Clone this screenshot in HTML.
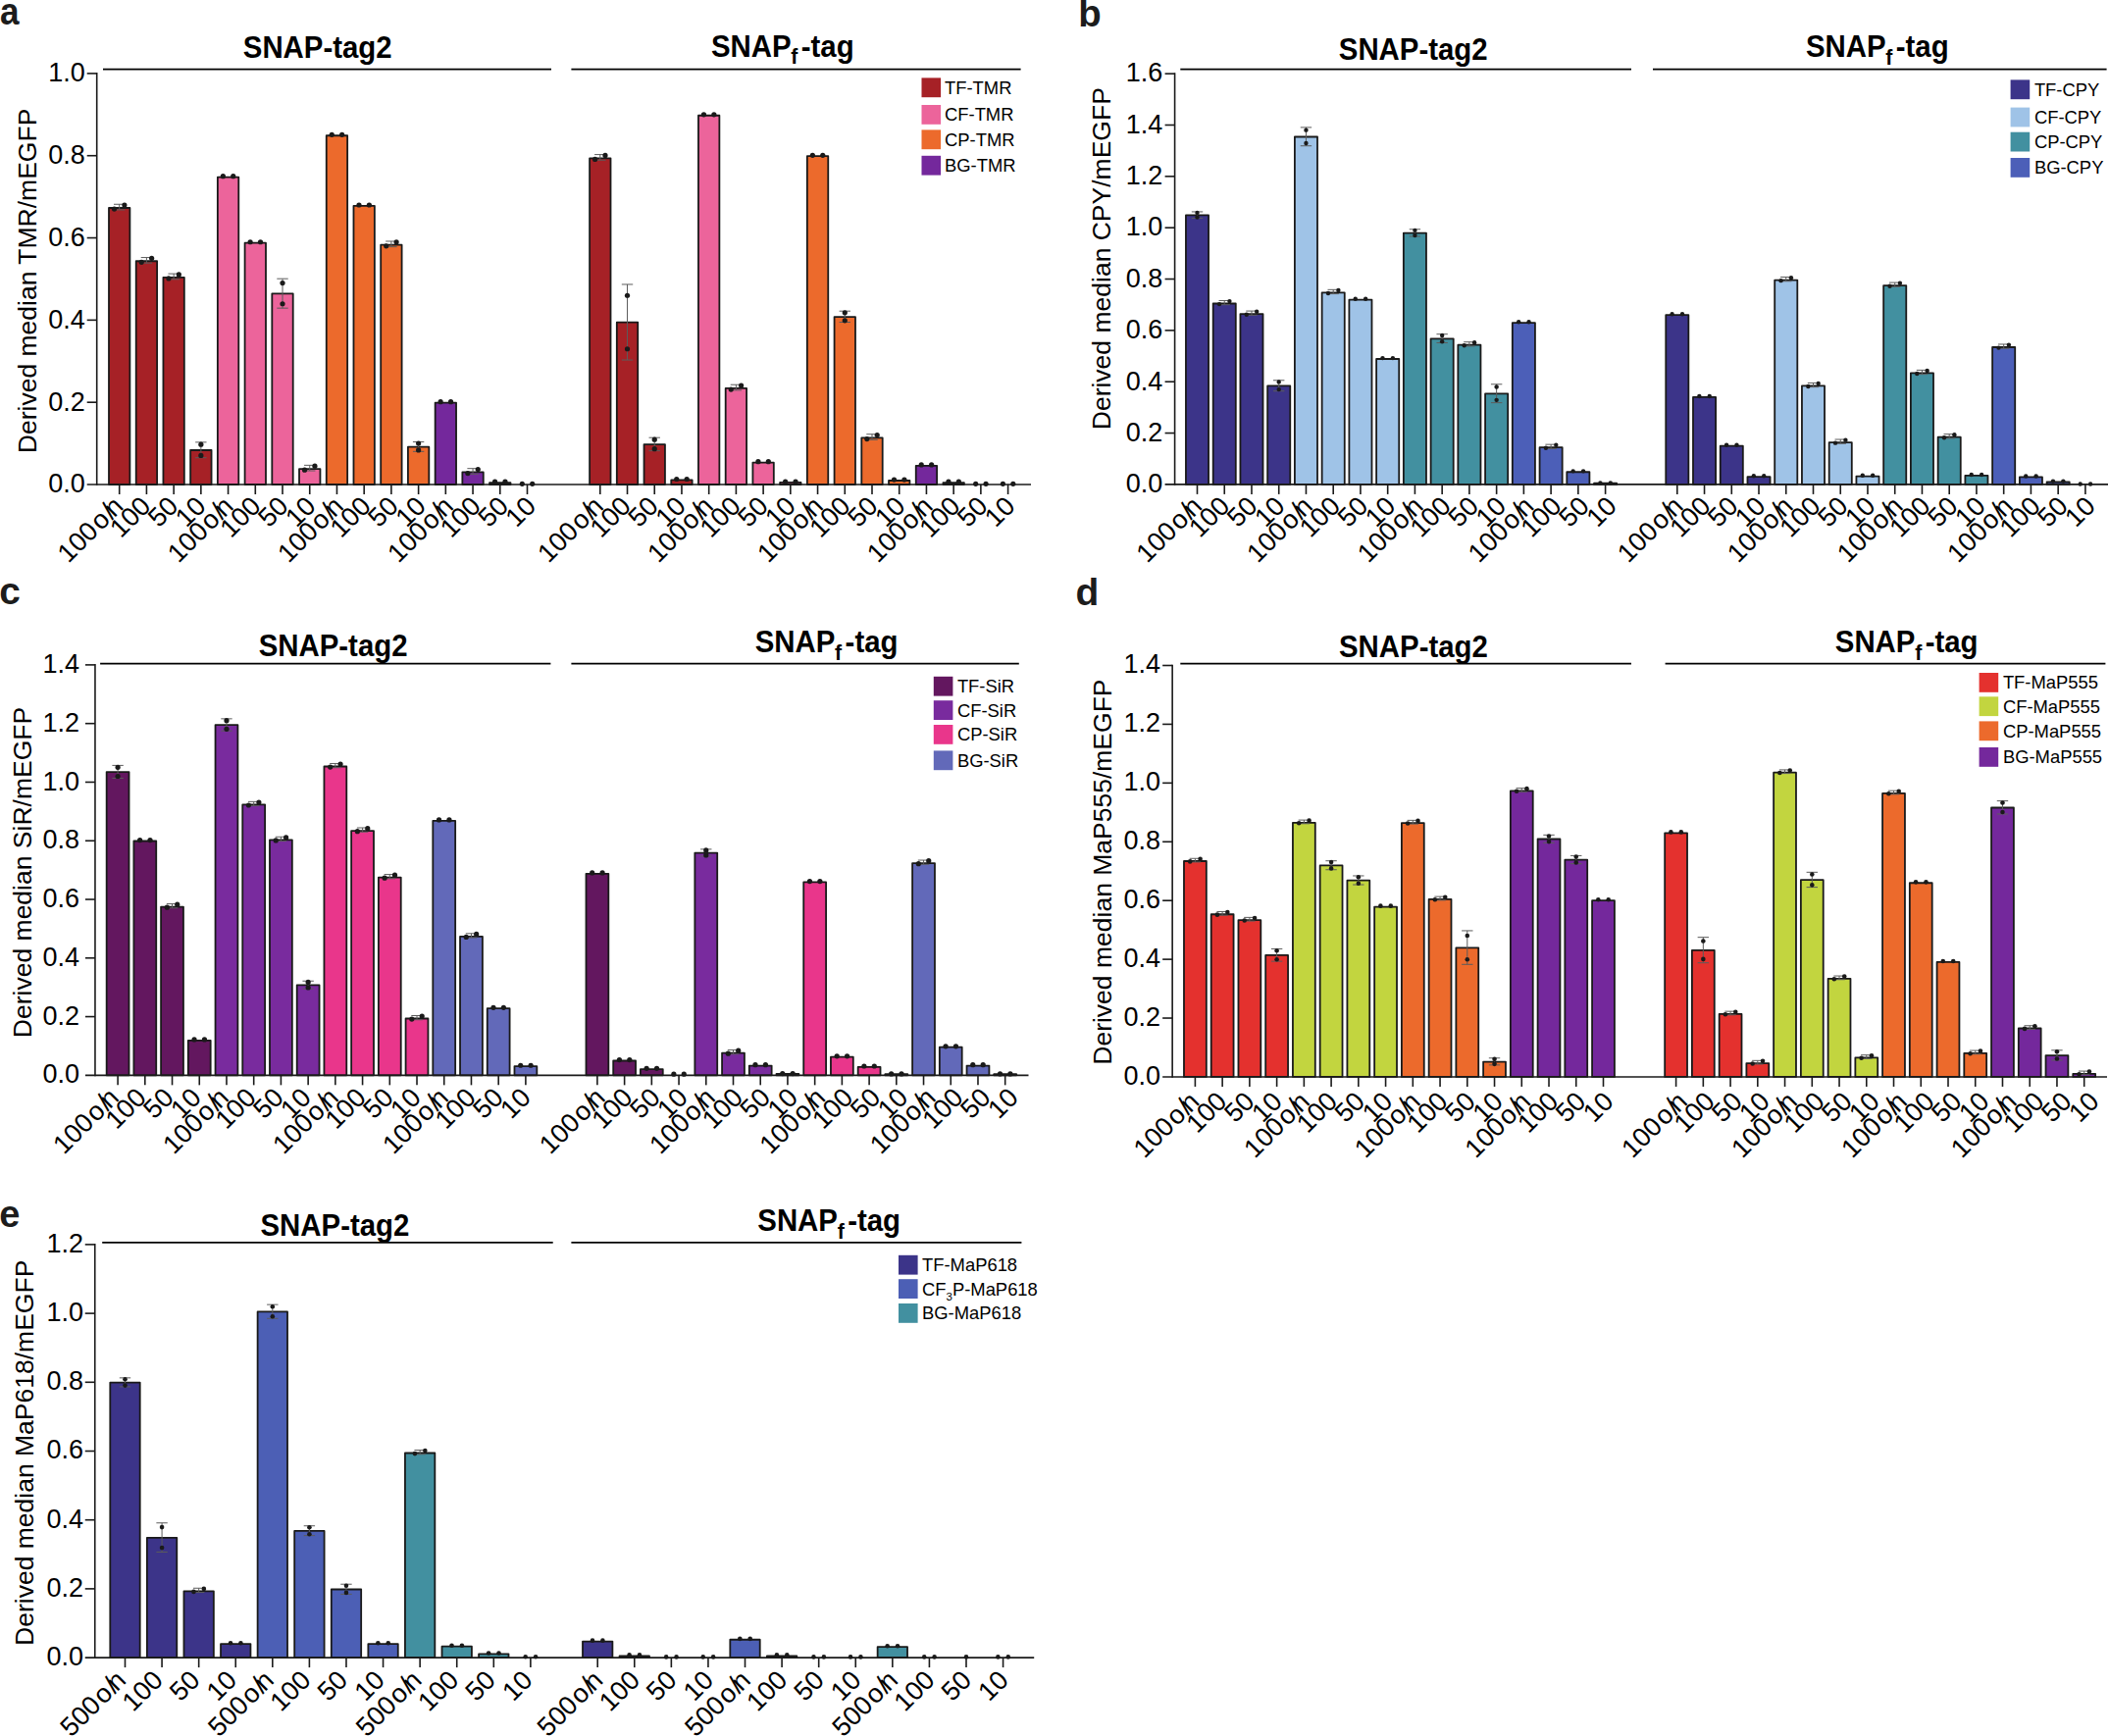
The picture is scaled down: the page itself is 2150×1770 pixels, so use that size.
<!DOCTYPE html>
<html lang="en"><head><meta charset="utf-8"><title>Figure</title>
<style>html,body{margin:0;padding:0;background:#fff}svg{display:block}</style>
</head><body>
<svg xmlns="http://www.w3.org/2000/svg" width="2150" height="1770" viewBox="0 0 2150 1770" font-family='"Liberation Sans", Arial, Helvetica, sans-serif' fill="#000">
<rect width="2150" height="1770" fill="#ffffff"/>
<g>
<rect x="111" y="212.01" width="21.4" height="281.99" fill="#a62126" stroke="#1a1a1a" stroke-width="1.8" stroke-linejoin="round"/>
<line x1="121.7" y1="208.28" x2="121.7" y2="213.94" stroke="#5c5c5c" stroke-width="1.0" stroke-linecap="butt"/>
<line x1="116" y1="208.28" x2="127.4" y2="208.28" stroke="#5c5c5c" stroke-width="1.0" stroke-linecap="butt"/>
<line x1="116" y1="213.94" x2="127.4" y2="213.94" stroke="#5c5c5c" stroke-width="1.0" stroke-linecap="butt"/>
<circle cx="116.5" cy="213.11" r="2.6" fill="#1a1a1a"/>
<circle cx="126.9" cy="209.11" r="2.6" fill="#1a1a1a"/>
<rect x="138.72" y="266.27" width="21.4" height="227.73" fill="#a62126" stroke="#1a1a1a" stroke-width="1.8" stroke-linejoin="round"/>
<line x1="149.42" y1="262.55" x2="149.42" y2="268.2" stroke="#5c5c5c" stroke-width="1.0" stroke-linecap="butt"/>
<line x1="143.72" y1="262.55" x2="155.12" y2="262.55" stroke="#5c5c5c" stroke-width="1.0" stroke-linecap="butt"/>
<line x1="143.72" y1="268.2" x2="155.12" y2="268.2" stroke="#5c5c5c" stroke-width="1.0" stroke-linecap="butt"/>
<circle cx="144.22" cy="267.37" r="2.6" fill="#1a1a1a"/>
<circle cx="154.62" cy="263.37" r="2.6" fill="#1a1a1a"/>
<rect x="166.44" y="282.82" width="21.4" height="211.18" fill="#a62126" stroke="#1a1a1a" stroke-width="1.8" stroke-linejoin="round"/>
<line x1="177.14" y1="279.1" x2="177.14" y2="284.75" stroke="#5c5c5c" stroke-width="1.0" stroke-linecap="butt"/>
<line x1="171.44" y1="279.1" x2="182.84" y2="279.1" stroke="#5c5c5c" stroke-width="1.0" stroke-linecap="butt"/>
<line x1="171.44" y1="284.75" x2="182.84" y2="284.75" stroke="#5c5c5c" stroke-width="1.0" stroke-linecap="butt"/>
<circle cx="171.94" cy="283.92" r="2.6" fill="#1a1a1a"/>
<circle cx="182.34" cy="279.92" r="2.6" fill="#1a1a1a"/>
<rect x="194.16" y="459.01" width="21.4" height="34.99" fill="#a62126" stroke="#1a1a1a" stroke-width="1.8" stroke-linejoin="round"/>
<line x1="204.86" y1="450.89" x2="204.86" y2="466.73" stroke="#5c5c5c" stroke-width="1.0" stroke-linecap="butt"/>
<line x1="199.16" y1="450.89" x2="210.56" y2="450.89" stroke="#5c5c5c" stroke-width="1.0" stroke-linecap="butt"/>
<line x1="199.16" y1="466.73" x2="210.56" y2="466.73" stroke="#5c5c5c" stroke-width="1.0" stroke-linecap="butt"/>
<circle cx="204.86" cy="464.41" r="2.6" fill="#1a1a1a"/>
<circle cx="204.86" cy="453.21" r="2.6" fill="#1a1a1a"/>
<rect x="221.88" y="180.59" width="21.4" height="313.41" fill="#ec649b" stroke="#1a1a1a" stroke-width="1.8" stroke-linejoin="round"/>
<circle cx="227.38" cy="179.69" r="2.6" fill="#1a1a1a"/>
<circle cx="237.78" cy="179.69" r="2.6" fill="#1a1a1a"/>
<rect x="249.6" y="247.63" width="21.4" height="246.37" fill="#ec649b" stroke="#1a1a1a" stroke-width="1.8" stroke-linejoin="round"/>
<circle cx="255.1" cy="246.73" r="2.6" fill="#1a1a1a"/>
<circle cx="265.5" cy="246.73" r="2.6" fill="#1a1a1a"/>
<rect x="277.32" y="299.37" width="21.4" height="194.63" fill="#ec649b" stroke="#1a1a1a" stroke-width="1.8" stroke-linejoin="round"/>
<line x1="288.02" y1="284.18" x2="288.02" y2="314.17" stroke="#5c5c5c" stroke-width="1.0" stroke-linecap="butt"/>
<line x1="282.32" y1="284.18" x2="293.72" y2="284.18" stroke="#5c5c5c" stroke-width="1.0" stroke-linecap="butt"/>
<line x1="282.32" y1="314.17" x2="293.72" y2="314.17" stroke="#5c5c5c" stroke-width="1.0" stroke-linecap="butt"/>
<circle cx="288.02" cy="309.77" r="2.6" fill="#1a1a1a"/>
<circle cx="288.02" cy="288.57" r="2.6" fill="#1a1a1a"/>
<rect x="305.04" y="478.08" width="21.4" height="15.92" fill="#ec649b" stroke="#1a1a1a" stroke-width="1.8" stroke-linejoin="round"/>
<line x1="315.74" y1="474.35" x2="315.74" y2="480.01" stroke="#5c5c5c" stroke-width="1.0" stroke-linecap="butt"/>
<line x1="310.04" y1="474.35" x2="321.44" y2="474.35" stroke="#5c5c5c" stroke-width="1.0" stroke-linecap="butt"/>
<line x1="310.04" y1="480.01" x2="321.44" y2="480.01" stroke="#5c5c5c" stroke-width="1.0" stroke-linecap="butt"/>
<circle cx="310.54" cy="479.18" r="2.6" fill="#1a1a1a"/>
<circle cx="320.94" cy="475.18" r="2.6" fill="#1a1a1a"/>
<rect x="332.76" y="138.27" width="21.4" height="355.73" fill="#ec6a2c" stroke="#1a1a1a" stroke-width="1.8" stroke-linejoin="round"/>
<circle cx="338.26" cy="137.37" r="2.6" fill="#1a1a1a"/>
<circle cx="348.66" cy="137.37" r="2.6" fill="#1a1a1a"/>
<rect x="360.48" y="209.92" width="21.4" height="284.08" fill="#ec6a2c" stroke="#1a1a1a" stroke-width="1.8" stroke-linejoin="round"/>
<circle cx="365.98" cy="209.02" r="2.6" fill="#1a1a1a"/>
<circle cx="376.38" cy="209.02" r="2.6" fill="#1a1a1a"/>
<rect x="388.2" y="249.72" width="21.4" height="244.28" fill="#ec6a2c" stroke="#1a1a1a" stroke-width="1.8" stroke-linejoin="round"/>
<line x1="398.9" y1="245.99" x2="398.9" y2="251.65" stroke="#5c5c5c" stroke-width="1.0" stroke-linecap="butt"/>
<line x1="393.2" y1="245.99" x2="404.6" y2="245.99" stroke="#5c5c5c" stroke-width="1.0" stroke-linecap="butt"/>
<line x1="393.2" y1="251.65" x2="404.6" y2="251.65" stroke="#5c5c5c" stroke-width="1.0" stroke-linecap="butt"/>
<circle cx="393.7" cy="250.82" r="2.6" fill="#1a1a1a"/>
<circle cx="404.1" cy="246.82" r="2.6" fill="#1a1a1a"/>
<rect x="415.92" y="455.66" width="21.4" height="38.34" fill="#ec6a2c" stroke="#1a1a1a" stroke-width="1.8" stroke-linejoin="round"/>
<line x1="426.62" y1="450.58" x2="426.62" y2="460.34" stroke="#5c5c5c" stroke-width="1.0" stroke-linecap="butt"/>
<line x1="420.92" y1="450.58" x2="432.32" y2="450.58" stroke="#5c5c5c" stroke-width="1.0" stroke-linecap="butt"/>
<line x1="420.92" y1="460.34" x2="432.32" y2="460.34" stroke="#5c5c5c" stroke-width="1.0" stroke-linecap="butt"/>
<circle cx="426.62" cy="458.91" r="2.6" fill="#1a1a1a"/>
<circle cx="426.62" cy="452.01" r="2.6" fill="#1a1a1a"/>
<rect x="443.64" y="410.62" width="21.4" height="83.38" fill="#74289c" stroke="#1a1a1a" stroke-width="1.8" stroke-linejoin="round"/>
<circle cx="449.14" cy="409.72" r="2.6" fill="#1a1a1a"/>
<circle cx="459.54" cy="409.72" r="2.6" fill="#1a1a1a"/>
<rect x="471.36" y="481.43" width="21.4" height="12.57" fill="#74289c" stroke="#1a1a1a" stroke-width="1.8" stroke-linejoin="round"/>
<line x1="482.06" y1="477.7" x2="482.06" y2="483.36" stroke="#5c5c5c" stroke-width="1.0" stroke-linecap="butt"/>
<line x1="476.36" y1="477.7" x2="487.76" y2="477.7" stroke="#5c5c5c" stroke-width="1.0" stroke-linecap="butt"/>
<line x1="476.36" y1="483.36" x2="487.76" y2="483.36" stroke="#5c5c5c" stroke-width="1.0" stroke-linecap="butt"/>
<circle cx="476.86" cy="482.53" r="2.6" fill="#1a1a1a"/>
<circle cx="487.26" cy="478.53" r="2.6" fill="#1a1a1a"/>
<rect x="499.08" y="492.11" width="21.4" height="1.89" fill="#74289c" stroke="#1a1a1a" stroke-width="1.8" stroke-linejoin="round"/>
<circle cx="504.58" cy="491.21" r="2.6" fill="#1a1a1a"/>
<circle cx="514.98" cy="491.21" r="2.6" fill="#1a1a1a"/>
<circle cx="532.3" cy="493.28" r="2.6" fill="#1a1a1a"/>
<circle cx="542.7" cy="493.28" r="2.6" fill="#1a1a1a"/>
<rect x="601.1" y="161.31" width="21.4" height="332.69" fill="#a62126" stroke="#1a1a1a" stroke-width="1.8" stroke-linejoin="round"/>
<line x1="611.8" y1="157.59" x2="611.8" y2="163.24" stroke="#5c5c5c" stroke-width="1.0" stroke-linecap="butt"/>
<line x1="606.1" y1="157.59" x2="617.5" y2="157.59" stroke="#5c5c5c" stroke-width="1.0" stroke-linecap="butt"/>
<line x1="606.1" y1="163.24" x2="617.5" y2="163.24" stroke="#5c5c5c" stroke-width="1.0" stroke-linecap="butt"/>
<circle cx="606.6" cy="162.41" r="2.6" fill="#1a1a1a"/>
<circle cx="617" cy="158.41" r="2.6" fill="#1a1a1a"/>
<rect x="628.82" y="328.7" width="21.4" height="165.3" fill="#a62126" stroke="#1a1a1a" stroke-width="1.8" stroke-linejoin="round"/>
<line x1="639.52" y1="289.97" x2="639.52" y2="367.04" stroke="#5c5c5c" stroke-width="1.0" stroke-linecap="butt"/>
<line x1="633.82" y1="289.97" x2="645.22" y2="289.97" stroke="#5c5c5c" stroke-width="1.0" stroke-linecap="butt"/>
<line x1="633.82" y1="367.04" x2="645.22" y2="367.04" stroke="#5c5c5c" stroke-width="1.0" stroke-linecap="butt"/>
<circle cx="639.52" cy="355.75" r="2.6" fill="#1a1a1a"/>
<circle cx="639.52" cy="301.25" r="2.6" fill="#1a1a1a"/>
<rect x="656.54" y="453.11" width="21.4" height="40.89" fill="#a62126" stroke="#1a1a1a" stroke-width="1.8" stroke-linejoin="round"/>
<line x1="667.24" y1="446.19" x2="667.24" y2="459.62" stroke="#5c5c5c" stroke-width="1.0" stroke-linecap="butt"/>
<line x1="661.54" y1="446.19" x2="672.94" y2="446.19" stroke="#5c5c5c" stroke-width="1.0" stroke-linecap="butt"/>
<line x1="661.54" y1="459.62" x2="672.94" y2="459.62" stroke="#5c5c5c" stroke-width="1.0" stroke-linecap="butt"/>
<circle cx="667.24" cy="457.66" r="2.6" fill="#1a1a1a"/>
<circle cx="667.24" cy="448.16" r="2.6" fill="#1a1a1a"/>
<rect x="684.26" y="489.39" width="21.4" height="4.61" fill="#a62126" stroke="#1a1a1a" stroke-width="1.8" stroke-linejoin="round"/>
<circle cx="689.76" cy="488.49" r="2.6" fill="#1a1a1a"/>
<circle cx="700.16" cy="488.49" r="2.6" fill="#1a1a1a"/>
<rect x="711.98" y="117.74" width="21.4" height="376.26" fill="#ec649b" stroke="#1a1a1a" stroke-width="1.8" stroke-linejoin="round"/>
<circle cx="717.48" cy="116.84" r="2.6" fill="#1a1a1a"/>
<circle cx="727.88" cy="116.84" r="2.6" fill="#1a1a1a"/>
<rect x="739.7" y="395.95" width="21.4" height="98.05" fill="#ec649b" stroke="#1a1a1a" stroke-width="1.8" stroke-linejoin="round"/>
<line x1="750.4" y1="392.23" x2="750.4" y2="397.88" stroke="#5c5c5c" stroke-width="1.0" stroke-linecap="butt"/>
<line x1="744.7" y1="392.23" x2="756.1" y2="392.23" stroke="#5c5c5c" stroke-width="1.0" stroke-linecap="butt"/>
<line x1="744.7" y1="397.88" x2="756.1" y2="397.88" stroke="#5c5c5c" stroke-width="1.0" stroke-linecap="butt"/>
<circle cx="745.2" cy="397.05" r="2.6" fill="#1a1a1a"/>
<circle cx="755.6" cy="393.05" r="2.6" fill="#1a1a1a"/>
<rect x="767.42" y="471.58" width="21.4" height="22.42" fill="#ec649b" stroke="#1a1a1a" stroke-width="1.8" stroke-linejoin="round"/>
<circle cx="772.92" cy="470.68" r="2.6" fill="#1a1a1a"/>
<circle cx="783.32" cy="470.68" r="2.6" fill="#1a1a1a"/>
<rect x="795.14" y="491.9" width="21.4" height="2.1" fill="#ec649b" stroke="#1a1a1a" stroke-width="1.8" stroke-linejoin="round"/>
<circle cx="800.64" cy="491" r="2.6" fill="#1a1a1a"/>
<circle cx="811.04" cy="491" r="2.6" fill="#1a1a1a"/>
<rect x="822.86" y="159.22" width="21.4" height="334.78" fill="#ec6a2c" stroke="#1a1a1a" stroke-width="1.8" stroke-linejoin="round"/>
<circle cx="828.36" cy="158.32" r="2.6" fill="#1a1a1a"/>
<circle cx="838.76" cy="158.32" r="2.6" fill="#1a1a1a"/>
<rect x="850.58" y="323.05" width="21.4" height="170.95" fill="#ec6a2c" stroke="#1a1a1a" stroke-width="1.8" stroke-linejoin="round"/>
<line x1="861.28" y1="317.19" x2="861.28" y2="328.5" stroke="#5c5c5c" stroke-width="1.0" stroke-linecap="butt"/>
<line x1="855.58" y1="317.19" x2="866.98" y2="317.19" stroke="#5c5c5c" stroke-width="1.0" stroke-linecap="butt"/>
<line x1="855.58" y1="328.5" x2="866.98" y2="328.5" stroke="#5c5c5c" stroke-width="1.0" stroke-linecap="butt"/>
<circle cx="861.28" cy="326.85" r="2.6" fill="#1a1a1a"/>
<circle cx="861.28" cy="318.85" r="2.6" fill="#1a1a1a"/>
<rect x="878.3" y="446.44" width="21.4" height="47.56" fill="#ec6a2c" stroke="#1a1a1a" stroke-width="1.8" stroke-linejoin="round"/>
<line x1="889" y1="442.72" x2="889" y2="448.37" stroke="#5c5c5c" stroke-width="1.0" stroke-linecap="butt"/>
<line x1="883.3" y1="442.72" x2="894.7" y2="442.72" stroke="#5c5c5c" stroke-width="1.0" stroke-linecap="butt"/>
<line x1="883.3" y1="448.37" x2="894.7" y2="448.37" stroke="#5c5c5c" stroke-width="1.0" stroke-linecap="butt"/>
<circle cx="883.8" cy="447.54" r="2.6" fill="#1a1a1a"/>
<circle cx="894.2" cy="443.54" r="2.6" fill="#1a1a1a"/>
<rect x="906.02" y="490.02" width="21.4" height="3.98" fill="#ec6a2c" stroke="#1a1a1a" stroke-width="1.8" stroke-linejoin="round"/>
<circle cx="911.52" cy="489.12" r="2.6" fill="#1a1a1a"/>
<circle cx="921.92" cy="489.12" r="2.6" fill="#1a1a1a"/>
<rect x="933.74" y="474.85" width="21.4" height="19.15" fill="#74289c" stroke="#1a1a1a" stroke-width="1.8" stroke-linejoin="round"/>
<circle cx="939.24" cy="473.95" r="2.6" fill="#1a1a1a"/>
<circle cx="949.64" cy="473.95" r="2.6" fill="#1a1a1a"/>
<rect x="961.46" y="492.11" width="21.4" height="1.89" fill="#74289c" stroke="#1a1a1a" stroke-width="1.8" stroke-linejoin="round"/>
<circle cx="966.96" cy="491.21" r="2.6" fill="#1a1a1a"/>
<circle cx="977.36" cy="491.21" r="2.6" fill="#1a1a1a"/>
<circle cx="994.68" cy="493.28" r="2.6" fill="#1a1a1a"/>
<circle cx="1005.08" cy="493.28" r="2.6" fill="#1a1a1a"/>
<circle cx="1022.4" cy="493.28" r="2.6" fill="#1a1a1a"/>
<circle cx="1032.8" cy="493.28" r="2.6" fill="#1a1a1a"/>
<line x1="98.7" y1="74.1" x2="98.7" y2="494.8" stroke="#1a1a1a" stroke-width="1.6" stroke-linecap="butt"/>
<line x1="88.7" y1="494" x2="1051" y2="494" stroke="#1a1a1a" stroke-width="1.6" stroke-linecap="butt"/>
<text x="86.7" y="502.45" font-size="27.0" text-anchor="end" font-weight="normal" >0.0</text>
<line x1="88.7" y1="410.18" x2="98.7" y2="410.18" stroke="#1a1a1a" stroke-width="1.6" stroke-linecap="butt"/>
<text x="86.7" y="418.63" font-size="27.0" text-anchor="end" font-weight="normal" >0.2</text>
<line x1="88.7" y1="326.36" x2="98.7" y2="326.36" stroke="#1a1a1a" stroke-width="1.6" stroke-linecap="butt"/>
<text x="86.7" y="334.81" font-size="27.0" text-anchor="end" font-weight="normal" >0.4</text>
<line x1="88.7" y1="242.54" x2="98.7" y2="242.54" stroke="#1a1a1a" stroke-width="1.6" stroke-linecap="butt"/>
<text x="86.7" y="250.99" font-size="27.0" text-anchor="end" font-weight="normal" >0.6</text>
<line x1="88.7" y1="158.72" x2="98.7" y2="158.72" stroke="#1a1a1a" stroke-width="1.6" stroke-linecap="butt"/>
<text x="86.7" y="167.17" font-size="27.0" text-anchor="end" font-weight="normal" >0.8</text>
<line x1="88.7" y1="74.9" x2="98.7" y2="74.9" stroke="#1a1a1a" stroke-width="1.6" stroke-linecap="butt"/>
<text x="86.7" y="83.35" font-size="27.0" text-anchor="end" font-weight="normal" >1.0</text>
<line x1="121.7" y1="494" x2="121.7" y2="504" stroke="#1a1a1a" stroke-width="1.6" stroke-linecap="butt"/>
<text transform="translate(127.15,517.6) rotate(-45)" font-size="27.0" text-anchor="end">100<tspan dx="1.8 0.9 -4.2">o/n</tspan></text>
<line x1="149.42" y1="494" x2="149.42" y2="504" stroke="#1a1a1a" stroke-width="1.6" stroke-linecap="butt"/>
<text transform="translate(155.19,517.6) rotate(-45)" font-size="27.0" text-anchor="end">100</text>
<line x1="177.14" y1="494" x2="177.14" y2="504" stroke="#1a1a1a" stroke-width="1.6" stroke-linecap="butt"/>
<text transform="translate(183.24,517.6) rotate(-45)" font-size="27.0" text-anchor="end">50</text>
<line x1="204.86" y1="494" x2="204.86" y2="504" stroke="#1a1a1a" stroke-width="1.6" stroke-linecap="butt"/>
<text transform="translate(211.28,517.6) rotate(-45)" font-size="27.0" text-anchor="end">10</text>
<line x1="232.58" y1="494" x2="232.58" y2="504" stroke="#1a1a1a" stroke-width="1.6" stroke-linecap="butt"/>
<text transform="translate(239.33,517.6) rotate(-45)" font-size="27.0" text-anchor="end">100<tspan dx="1.8 0.9 -4.2">o/n</tspan></text>
<line x1="260.3" y1="494" x2="260.3" y2="504" stroke="#1a1a1a" stroke-width="1.6" stroke-linecap="butt"/>
<text transform="translate(267.38,517.6) rotate(-45)" font-size="27.0" text-anchor="end">100</text>
<line x1="288.02" y1="494" x2="288.02" y2="504" stroke="#1a1a1a" stroke-width="1.6" stroke-linecap="butt"/>
<text transform="translate(295.42,517.6) rotate(-45)" font-size="27.0" text-anchor="end">50</text>
<line x1="315.74" y1="494" x2="315.74" y2="504" stroke="#1a1a1a" stroke-width="1.6" stroke-linecap="butt"/>
<text transform="translate(323.46,517.6) rotate(-45)" font-size="27.0" text-anchor="end">10</text>
<line x1="343.46" y1="494" x2="343.46" y2="504" stroke="#1a1a1a" stroke-width="1.6" stroke-linecap="butt"/>
<text transform="translate(351.51,517.6) rotate(-45)" font-size="27.0" text-anchor="end">100<tspan dx="1.8 0.9 -4.2">o/n</tspan></text>
<line x1="371.18" y1="494" x2="371.18" y2="504" stroke="#1a1a1a" stroke-width="1.6" stroke-linecap="butt"/>
<text transform="translate(379.56,517.6) rotate(-45)" font-size="27.0" text-anchor="end">100</text>
<line x1="398.9" y1="494" x2="398.9" y2="504" stroke="#1a1a1a" stroke-width="1.6" stroke-linecap="butt"/>
<text transform="translate(407.6,517.6) rotate(-45)" font-size="27.0" text-anchor="end">50</text>
<line x1="426.62" y1="494" x2="426.62" y2="504" stroke="#1a1a1a" stroke-width="1.6" stroke-linecap="butt"/>
<text transform="translate(435.64,517.6) rotate(-45)" font-size="27.0" text-anchor="end">10</text>
<line x1="454.34" y1="494" x2="454.34" y2="504" stroke="#1a1a1a" stroke-width="1.6" stroke-linecap="butt"/>
<text transform="translate(463.69,517.6) rotate(-45)" font-size="27.0" text-anchor="end">100<tspan dx="1.8 0.9 -4.2">o/n</tspan></text>
<line x1="482.06" y1="494" x2="482.06" y2="504" stroke="#1a1a1a" stroke-width="1.6" stroke-linecap="butt"/>
<text transform="translate(491.74,517.6) rotate(-45)" font-size="27.0" text-anchor="end">100</text>
<line x1="509.78" y1="494" x2="509.78" y2="504" stroke="#1a1a1a" stroke-width="1.6" stroke-linecap="butt"/>
<text transform="translate(519.78,517.6) rotate(-45)" font-size="27.0" text-anchor="end">50</text>
<line x1="537.5" y1="494" x2="537.5" y2="504" stroke="#1a1a1a" stroke-width="1.6" stroke-linecap="butt"/>
<text transform="translate(547.83,517.6) rotate(-45)" font-size="27.0" text-anchor="end">10</text>
<line x1="611.8" y1="494" x2="611.8" y2="504" stroke="#1a1a1a" stroke-width="1.6" stroke-linecap="butt"/>
<text transform="translate(616.7,517.6) rotate(-45)" font-size="27.0" text-anchor="end">100<tspan dx="1.8 0.9 -4.2">o/n</tspan></text>
<line x1="639.52" y1="494" x2="639.52" y2="504" stroke="#1a1a1a" stroke-width="1.6" stroke-linecap="butt"/>
<text transform="translate(644.68,517.6) rotate(-45)" font-size="27.0" text-anchor="end">100</text>
<line x1="667.24" y1="494" x2="667.24" y2="504" stroke="#1a1a1a" stroke-width="1.6" stroke-linecap="butt"/>
<text transform="translate(672.65,517.6) rotate(-45)" font-size="27.0" text-anchor="end">50</text>
<line x1="694.96" y1="494" x2="694.96" y2="504" stroke="#1a1a1a" stroke-width="1.6" stroke-linecap="butt"/>
<text transform="translate(700.63,517.6) rotate(-45)" font-size="27.0" text-anchor="end">10</text>
<line x1="722.68" y1="494" x2="722.68" y2="504" stroke="#1a1a1a" stroke-width="1.6" stroke-linecap="butt"/>
<text transform="translate(728.6,517.6) rotate(-45)" font-size="27.0" text-anchor="end">100<tspan dx="1.8 0.9 -4.2">o/n</tspan></text>
<line x1="750.4" y1="494" x2="750.4" y2="504" stroke="#1a1a1a" stroke-width="1.6" stroke-linecap="butt"/>
<text transform="translate(756.58,517.6) rotate(-45)" font-size="27.0" text-anchor="end">100</text>
<line x1="778.12" y1="494" x2="778.12" y2="504" stroke="#1a1a1a" stroke-width="1.6" stroke-linecap="butt"/>
<text transform="translate(784.56,517.6) rotate(-45)" font-size="27.0" text-anchor="end">50</text>
<line x1="805.84" y1="494" x2="805.84" y2="504" stroke="#1a1a1a" stroke-width="1.6" stroke-linecap="butt"/>
<text transform="translate(812.53,517.6) rotate(-45)" font-size="27.0" text-anchor="end">10</text>
<line x1="833.56" y1="494" x2="833.56" y2="504" stroke="#1a1a1a" stroke-width="1.6" stroke-linecap="butt"/>
<text transform="translate(840.51,517.6) rotate(-45)" font-size="27.0" text-anchor="end">100<tspan dx="1.8 0.9 -4.2">o/n</tspan></text>
<line x1="861.28" y1="494" x2="861.28" y2="504" stroke="#1a1a1a" stroke-width="1.6" stroke-linecap="butt"/>
<text transform="translate(868.48,517.6) rotate(-45)" font-size="27.0" text-anchor="end">100</text>
<line x1="889" y1="494" x2="889" y2="504" stroke="#1a1a1a" stroke-width="1.6" stroke-linecap="butt"/>
<text transform="translate(896.46,517.6) rotate(-45)" font-size="27.0" text-anchor="end">50</text>
<line x1="916.72" y1="494" x2="916.72" y2="504" stroke="#1a1a1a" stroke-width="1.6" stroke-linecap="butt"/>
<text transform="translate(924.44,517.6) rotate(-45)" font-size="27.0" text-anchor="end">10</text>
<line x1="944.44" y1="494" x2="944.44" y2="504" stroke="#1a1a1a" stroke-width="1.6" stroke-linecap="butt"/>
<text transform="translate(952.41,517.6) rotate(-45)" font-size="27.0" text-anchor="end">100<tspan dx="1.8 0.9 -4.2">o/n</tspan></text>
<line x1="972.16" y1="494" x2="972.16" y2="504" stroke="#1a1a1a" stroke-width="1.6" stroke-linecap="butt"/>
<text transform="translate(980.39,517.6) rotate(-45)" font-size="27.0" text-anchor="end">100</text>
<line x1="999.88" y1="494" x2="999.88" y2="504" stroke="#1a1a1a" stroke-width="1.6" stroke-linecap="butt"/>
<text transform="translate(1008.36,517.6) rotate(-45)" font-size="27.0" text-anchor="end">50</text>
<line x1="1027.6" y1="494" x2="1027.6" y2="504" stroke="#1a1a1a" stroke-width="1.6" stroke-linecap="butt"/>
<text transform="translate(1036.34,517.6) rotate(-45)" font-size="27.0" text-anchor="end">10</text>
<text transform="translate(37.3,286.4) rotate(-90)" font-size="26.5" text-anchor="middle">Derived median TMR/mEGFP</text>
<line x1="105" y1="70.55" x2="562" y2="70.55" stroke="#000" stroke-width="1.8" stroke-linecap="butt"/>
<line x1="582.4" y1="70.55" x2="1040.6" y2="70.55" stroke="#000" stroke-width="1.8" stroke-linecap="butt"/>
<text transform="translate(247.8,59.4) scale(0.964,1)" font-size="30.5" font-weight="bold" fill="#000">SNAP-tag2</text>
<text transform="translate(724.9,57.6) scale(0.964,1)" font-size="30.5" font-weight="bold" fill="#000">SNAP<tspan font-size="22.0" dy="7.8" dx="-0.3">f</tspan><tspan dy="-7.8" dx="3.6">-tag</tspan></text>
<rect x="939.5" y="79.4" width="19.6" height="19.8" fill="#a62126"/>
<text x="963" y="95.8" font-size="18.4" text-anchor="start" font-weight="normal" >TF-TMR</text>
<rect x="939.5" y="107" width="19.6" height="19.8" fill="#ec649b"/>
<text x="963" y="123.4" font-size="18.4" text-anchor="start" font-weight="normal" >CF-TMR</text>
<rect x="939.5" y="132.4" width="19.6" height="19.8" fill="#ec6a2c"/>
<text x="963" y="148.8" font-size="18.4" text-anchor="start" font-weight="normal" >CP-TMR</text>
<rect x="939.5" y="158.8" width="19.6" height="19.8" fill="#74289c"/>
<text x="963" y="175.2" font-size="18.4" text-anchor="start" font-weight="normal" >BG-TMR</text>
<text transform="translate(0,24.7) scale(0.925,1)" font-size="38.0" font-weight="bold" fill="#1c1c1c">a</text>
</g>
<g>
<rect x="1208.95" y="219.4" width="23.1" height="274.5" fill="#3c3489" stroke="#1a1a1a" stroke-width="1.8" stroke-linejoin="round"/>
<line x1="1220.5" y1="215.95" x2="1220.5" y2="222.45" stroke="#5c5c5c" stroke-width="1.0" stroke-linecap="butt"/>
<line x1="1214.8" y1="215.95" x2="1226.2" y2="215.95" stroke="#5c5c5c" stroke-width="1.0" stroke-linecap="butt"/>
<line x1="1214.8" y1="222.45" x2="1226.2" y2="222.45" stroke="#5c5c5c" stroke-width="1.0" stroke-linecap="butt"/>
<circle cx="1220.5" cy="221.5" r="2.2" fill="#1a1a1a"/>
<circle cx="1220.5" cy="216.9" r="2.2" fill="#1a1a1a"/>
<rect x="1236.69" y="309.49" width="23.1" height="184.41" fill="#3c3489" stroke="#1a1a1a" stroke-width="1.8" stroke-linejoin="round"/>
<line x1="1248.24" y1="306.47" x2="1248.24" y2="310.71" stroke="#5c5c5c" stroke-width="1.0" stroke-linecap="butt"/>
<line x1="1242.54" y1="306.47" x2="1253.94" y2="306.47" stroke="#5c5c5c" stroke-width="1.0" stroke-linecap="butt"/>
<line x1="1242.54" y1="310.71" x2="1253.94" y2="310.71" stroke="#5c5c5c" stroke-width="1.0" stroke-linecap="butt"/>
<circle cx="1243.04" cy="310.09" r="2.2" fill="#1a1a1a"/>
<circle cx="1253.44" cy="307.09" r="2.2" fill="#1a1a1a"/>
<rect x="1264.43" y="320.1" width="23.1" height="173.8" fill="#3c3489" stroke="#1a1a1a" stroke-width="1.8" stroke-linejoin="round"/>
<line x1="1275.98" y1="317.08" x2="1275.98" y2="321.32" stroke="#5c5c5c" stroke-width="1.0" stroke-linecap="butt"/>
<line x1="1270.28" y1="317.08" x2="1281.68" y2="317.08" stroke="#5c5c5c" stroke-width="1.0" stroke-linecap="butt"/>
<line x1="1270.28" y1="321.32" x2="1281.68" y2="321.32" stroke="#5c5c5c" stroke-width="1.0" stroke-linecap="butt"/>
<circle cx="1270.78" cy="320.7" r="2.2" fill="#1a1a1a"/>
<circle cx="1281.18" cy="317.7" r="2.2" fill="#1a1a1a"/>
<rect x="1292.17" y="393.43" width="23.1" height="100.47" fill="#3c3489" stroke="#1a1a1a" stroke-width="1.8" stroke-linejoin="round"/>
<line x1="1303.72" y1="387.79" x2="1303.72" y2="398.68" stroke="#5c5c5c" stroke-width="1.0" stroke-linecap="butt"/>
<line x1="1298.02" y1="387.79" x2="1309.42" y2="387.79" stroke="#5c5c5c" stroke-width="1.0" stroke-linecap="butt"/>
<line x1="1298.02" y1="398.68" x2="1309.42" y2="398.68" stroke="#5c5c5c" stroke-width="1.0" stroke-linecap="butt"/>
<circle cx="1303.72" cy="397.08" r="2.2" fill="#1a1a1a"/>
<circle cx="1303.72" cy="389.38" r="2.2" fill="#1a1a1a"/>
<rect x="1319.91" y="139.52" width="23.1" height="354.38" fill="#9fc3e7" stroke="#1a1a1a" stroke-width="1.8" stroke-linejoin="round"/>
<line x1="1331.46" y1="129.91" x2="1331.46" y2="148.72" stroke="#5c5c5c" stroke-width="1.0" stroke-linecap="butt"/>
<line x1="1325.76" y1="129.91" x2="1337.16" y2="129.91" stroke="#5c5c5c" stroke-width="1.0" stroke-linecap="butt"/>
<line x1="1325.76" y1="148.72" x2="1337.16" y2="148.72" stroke="#5c5c5c" stroke-width="1.0" stroke-linecap="butt"/>
<circle cx="1331.46" cy="145.97" r="2.2" fill="#1a1a1a"/>
<circle cx="1331.46" cy="132.67" r="2.2" fill="#1a1a1a"/>
<rect x="1347.65" y="298.36" width="23.1" height="195.54" fill="#9fc3e7" stroke="#1a1a1a" stroke-width="1.8" stroke-linejoin="round"/>
<line x1="1359.2" y1="295.34" x2="1359.2" y2="299.58" stroke="#5c5c5c" stroke-width="1.0" stroke-linecap="butt"/>
<line x1="1353.5" y1="295.34" x2="1364.9" y2="295.34" stroke="#5c5c5c" stroke-width="1.0" stroke-linecap="butt"/>
<line x1="1353.5" y1="299.58" x2="1364.9" y2="299.58" stroke="#5c5c5c" stroke-width="1.0" stroke-linecap="butt"/>
<circle cx="1354" cy="298.96" r="2.2" fill="#1a1a1a"/>
<circle cx="1364.4" cy="295.96" r="2.2" fill="#1a1a1a"/>
<rect x="1375.39" y="305.62" width="23.1" height="188.28" fill="#9fc3e7" stroke="#1a1a1a" stroke-width="1.8" stroke-linejoin="round"/>
<circle cx="1381.74" cy="304.72" r="2.2" fill="#1a1a1a"/>
<circle cx="1392.14" cy="304.72" r="2.2" fill="#1a1a1a"/>
<rect x="1403.13" y="366.01" width="23.1" height="127.89" fill="#9fc3e7" stroke="#1a1a1a" stroke-width="1.8" stroke-linejoin="round"/>
<circle cx="1409.48" cy="365.11" r="2.2" fill="#1a1a1a"/>
<circle cx="1419.88" cy="365.11" r="2.2" fill="#1a1a1a"/>
<rect x="1430.87" y="237.6" width="23.1" height="256.3" fill="#4290a0" stroke="#1a1a1a" stroke-width="1.8" stroke-linejoin="round"/>
<line x1="1442.42" y1="233.79" x2="1442.42" y2="241.01" stroke="#5c5c5c" stroke-width="1.0" stroke-linecap="butt"/>
<line x1="1436.72" y1="233.79" x2="1448.12" y2="233.79" stroke="#5c5c5c" stroke-width="1.0" stroke-linecap="butt"/>
<line x1="1436.72" y1="241.01" x2="1448.12" y2="241.01" stroke="#5c5c5c" stroke-width="1.0" stroke-linecap="butt"/>
<circle cx="1442.42" cy="239.95" r="2.2" fill="#1a1a1a"/>
<circle cx="1442.42" cy="234.85" r="2.2" fill="#1a1a1a"/>
<rect x="1458.61" y="345.29" width="23.1" height="148.61" fill="#4290a0" stroke="#1a1a1a" stroke-width="1.8" stroke-linejoin="round"/>
<line x1="1470.16" y1="340.71" x2="1470.16" y2="349.48" stroke="#5c5c5c" stroke-width="1.0" stroke-linecap="butt"/>
<line x1="1464.46" y1="340.71" x2="1475.86" y2="340.71" stroke="#5c5c5c" stroke-width="1.0" stroke-linecap="butt"/>
<line x1="1464.46" y1="349.48" x2="1475.86" y2="349.48" stroke="#5c5c5c" stroke-width="1.0" stroke-linecap="butt"/>
<circle cx="1470.16" cy="348.19" r="2.2" fill="#1a1a1a"/>
<circle cx="1470.16" cy="341.99" r="2.2" fill="#1a1a1a"/>
<rect x="1486.35" y="351.71" width="23.1" height="142.19" fill="#4290a0" stroke="#1a1a1a" stroke-width="1.8" stroke-linejoin="round"/>
<line x1="1497.9" y1="348.69" x2="1497.9" y2="352.93" stroke="#5c5c5c" stroke-width="1.0" stroke-linecap="butt"/>
<line x1="1492.2" y1="348.69" x2="1503.6" y2="348.69" stroke="#5c5c5c" stroke-width="1.0" stroke-linecap="butt"/>
<line x1="1492.2" y1="352.93" x2="1503.6" y2="352.93" stroke="#5c5c5c" stroke-width="1.0" stroke-linecap="butt"/>
<circle cx="1492.7" cy="352.31" r="2.2" fill="#1a1a1a"/>
<circle cx="1503.1" cy="349.31" r="2.2" fill="#1a1a1a"/>
<rect x="1514.09" y="401.39" width="23.1" height="92.51" fill="#4290a0" stroke="#1a1a1a" stroke-width="1.8" stroke-linejoin="round"/>
<line x1="1525.64" y1="391.79" x2="1525.64" y2="410.6" stroke="#5c5c5c" stroke-width="1.0" stroke-linecap="butt"/>
<line x1="1519.94" y1="391.79" x2="1531.34" y2="391.79" stroke="#5c5c5c" stroke-width="1.0" stroke-linecap="butt"/>
<line x1="1519.94" y1="410.6" x2="1531.34" y2="410.6" stroke="#5c5c5c" stroke-width="1.0" stroke-linecap="butt"/>
<circle cx="1525.64" cy="407.84" r="2.2" fill="#1a1a1a"/>
<circle cx="1525.64" cy="394.54" r="2.2" fill="#1a1a1a"/>
<rect x="1541.83" y="329.19" width="23.1" height="164.71" fill="#4c5fb8" stroke="#1a1a1a" stroke-width="1.8" stroke-linejoin="round"/>
<circle cx="1548.18" cy="328.29" r="2.2" fill="#1a1a1a"/>
<circle cx="1558.58" cy="328.29" r="2.2" fill="#1a1a1a"/>
<rect x="1569.57" y="456.18" width="23.1" height="37.72" fill="#4c5fb8" stroke="#1a1a1a" stroke-width="1.8" stroke-linejoin="round"/>
<line x1="1581.12" y1="453.16" x2="1581.12" y2="457.4" stroke="#5c5c5c" stroke-width="1.0" stroke-linecap="butt"/>
<line x1="1575.42" y1="453.16" x2="1586.82" y2="453.16" stroke="#5c5c5c" stroke-width="1.0" stroke-linecap="butt"/>
<line x1="1575.42" y1="457.4" x2="1586.82" y2="457.4" stroke="#5c5c5c" stroke-width="1.0" stroke-linecap="butt"/>
<circle cx="1575.92" cy="456.78" r="2.2" fill="#1a1a1a"/>
<circle cx="1586.32" cy="453.78" r="2.2" fill="#1a1a1a"/>
<rect x="1597.31" y="481.27" width="23.1" height="12.63" fill="#4c5fb8" stroke="#1a1a1a" stroke-width="1.8" stroke-linejoin="round"/>
<circle cx="1603.66" cy="480.37" r="2.2" fill="#1a1a1a"/>
<circle cx="1614.06" cy="480.37" r="2.2" fill="#1a1a1a"/>
<rect x="1625.05" y="492.69" width="23.1" height="1.21" fill="#4c5fb8" stroke="#1a1a1a" stroke-width="1.8" stroke-linejoin="round"/>
<circle cx="1631.4" cy="492.39" r="2.2" fill="#1a1a1a"/>
<circle cx="1641.8" cy="492.39" r="2.2" fill="#1a1a1a"/>
<rect x="1698.25" y="321.22" width="23.1" height="172.68" fill="#3c3489" stroke="#1a1a1a" stroke-width="1.8" stroke-linejoin="round"/>
<circle cx="1704.6" cy="320.32" r="2.2" fill="#1a1a1a"/>
<circle cx="1715" cy="320.32" r="2.2" fill="#1a1a1a"/>
<rect x="1725.99" y="404.95" width="23.1" height="88.95" fill="#3c3489" stroke="#1a1a1a" stroke-width="1.8" stroke-linejoin="round"/>
<circle cx="1732.34" cy="404.05" r="2.2" fill="#1a1a1a"/>
<circle cx="1742.74" cy="404.05" r="2.2" fill="#1a1a1a"/>
<rect x="1753.73" y="454.64" width="23.1" height="39.26" fill="#3c3489" stroke="#1a1a1a" stroke-width="1.8" stroke-linejoin="round"/>
<circle cx="1760.08" cy="453.74" r="2.2" fill="#1a1a1a"/>
<circle cx="1770.48" cy="453.74" r="2.2" fill="#1a1a1a"/>
<rect x="1781.47" y="486.14" width="23.1" height="7.76" fill="#3c3489" stroke="#1a1a1a" stroke-width="1.8" stroke-linejoin="round"/>
<circle cx="1787.82" cy="485.24" r="2.2" fill="#1a1a1a"/>
<circle cx="1798.22" cy="485.24" r="2.2" fill="#1a1a1a"/>
<rect x="1809.21" y="285.53" width="23.1" height="208.37" fill="#9fc3e7" stroke="#1a1a1a" stroke-width="1.8" stroke-linejoin="round"/>
<line x1="1820.76" y1="282.51" x2="1820.76" y2="286.75" stroke="#5c5c5c" stroke-width="1.0" stroke-linecap="butt"/>
<line x1="1815.06" y1="282.51" x2="1826.46" y2="282.51" stroke="#5c5c5c" stroke-width="1.0" stroke-linecap="butt"/>
<line x1="1815.06" y1="286.75" x2="1826.46" y2="286.75" stroke="#5c5c5c" stroke-width="1.0" stroke-linecap="butt"/>
<circle cx="1815.56" cy="286.13" r="2.2" fill="#1a1a1a"/>
<circle cx="1825.96" cy="283.13" r="2.2" fill="#1a1a1a"/>
<rect x="1836.95" y="393.43" width="23.1" height="100.47" fill="#9fc3e7" stroke="#1a1a1a" stroke-width="1.8" stroke-linejoin="round"/>
<line x1="1848.5" y1="390.41" x2="1848.5" y2="394.65" stroke="#5c5c5c" stroke-width="1.0" stroke-linecap="butt"/>
<line x1="1842.8" y1="390.41" x2="1854.2" y2="390.41" stroke="#5c5c5c" stroke-width="1.0" stroke-linecap="butt"/>
<line x1="1842.8" y1="394.65" x2="1854.2" y2="394.65" stroke="#5c5c5c" stroke-width="1.0" stroke-linecap="butt"/>
<circle cx="1843.3" cy="394.03" r="2.2" fill="#1a1a1a"/>
<circle cx="1853.7" cy="391.03" r="2.2" fill="#1a1a1a"/>
<rect x="1864.69" y="451.05" width="23.1" height="42.85" fill="#9fc3e7" stroke="#1a1a1a" stroke-width="1.8" stroke-linejoin="round"/>
<line x1="1876.24" y1="448.03" x2="1876.24" y2="452.27" stroke="#5c5c5c" stroke-width="1.0" stroke-linecap="butt"/>
<line x1="1870.54" y1="448.03" x2="1881.94" y2="448.03" stroke="#5c5c5c" stroke-width="1.0" stroke-linecap="butt"/>
<line x1="1870.54" y1="452.27" x2="1881.94" y2="452.27" stroke="#5c5c5c" stroke-width="1.0" stroke-linecap="butt"/>
<circle cx="1871.04" cy="451.65" r="2.2" fill="#1a1a1a"/>
<circle cx="1881.44" cy="448.65" r="2.2" fill="#1a1a1a"/>
<rect x="1892.43" y="485.62" width="23.1" height="8.28" fill="#9fc3e7" stroke="#1a1a1a" stroke-width="1.8" stroke-linejoin="round"/>
<circle cx="1898.78" cy="484.72" r="2.2" fill="#1a1a1a"/>
<circle cx="1909.18" cy="484.72" r="2.2" fill="#1a1a1a"/>
<rect x="1920.17" y="291.11" width="23.1" height="202.79" fill="#4290a0" stroke="#1a1a1a" stroke-width="1.8" stroke-linejoin="round"/>
<line x1="1931.72" y1="288.08" x2="1931.72" y2="292.33" stroke="#5c5c5c" stroke-width="1.0" stroke-linecap="butt"/>
<line x1="1926.02" y1="288.08" x2="1937.42" y2="288.08" stroke="#5c5c5c" stroke-width="1.0" stroke-linecap="butt"/>
<line x1="1926.02" y1="292.33" x2="1937.42" y2="292.33" stroke="#5c5c5c" stroke-width="1.0" stroke-linecap="butt"/>
<circle cx="1926.52" cy="291.71" r="2.2" fill="#1a1a1a"/>
<circle cx="1936.92" cy="288.71" r="2.2" fill="#1a1a1a"/>
<rect x="1947.91" y="380.39" width="23.1" height="113.51" fill="#4290a0" stroke="#1a1a1a" stroke-width="1.8" stroke-linejoin="round"/>
<line x1="1959.46" y1="377.37" x2="1959.46" y2="381.61" stroke="#5c5c5c" stroke-width="1.0" stroke-linecap="butt"/>
<line x1="1953.76" y1="377.37" x2="1965.16" y2="377.37" stroke="#5c5c5c" stroke-width="1.0" stroke-linecap="butt"/>
<line x1="1953.76" y1="381.61" x2="1965.16" y2="381.61" stroke="#5c5c5c" stroke-width="1.0" stroke-linecap="butt"/>
<circle cx="1954.26" cy="380.99" r="2.2" fill="#1a1a1a"/>
<circle cx="1964.66" cy="377.99" r="2.2" fill="#1a1a1a"/>
<rect x="1975.65" y="445.65" width="23.1" height="48.25" fill="#4290a0" stroke="#1a1a1a" stroke-width="1.8" stroke-linejoin="round"/>
<line x1="1987.2" y1="442.63" x2="1987.2" y2="446.87" stroke="#5c5c5c" stroke-width="1.0" stroke-linecap="butt"/>
<line x1="1981.5" y1="442.63" x2="1992.9" y2="442.63" stroke="#5c5c5c" stroke-width="1.0" stroke-linecap="butt"/>
<line x1="1981.5" y1="446.87" x2="1992.9" y2="446.87" stroke="#5c5c5c" stroke-width="1.0" stroke-linecap="butt"/>
<circle cx="1982" cy="446.25" r="2.2" fill="#1a1a1a"/>
<circle cx="1992.4" cy="443.25" r="2.2" fill="#1a1a1a"/>
<rect x="2003.39" y="484.83" width="23.1" height="9.07" fill="#4290a0" stroke="#1a1a1a" stroke-width="1.8" stroke-linejoin="round"/>
<circle cx="2009.74" cy="483.93" r="2.2" fill="#1a1a1a"/>
<circle cx="2020.14" cy="483.93" r="2.2" fill="#1a1a1a"/>
<rect x="2031.13" y="354.01" width="23.1" height="139.89" fill="#4c5fb8" stroke="#1a1a1a" stroke-width="1.8" stroke-linejoin="round"/>
<line x1="2042.68" y1="350.99" x2="2042.68" y2="355.24" stroke="#5c5c5c" stroke-width="1.0" stroke-linecap="butt"/>
<line x1="2036.98" y1="350.99" x2="2048.38" y2="350.99" stroke="#5c5c5c" stroke-width="1.0" stroke-linecap="butt"/>
<line x1="2036.98" y1="355.24" x2="2048.38" y2="355.24" stroke="#5c5c5c" stroke-width="1.0" stroke-linecap="butt"/>
<circle cx="2037.48" cy="354.61" r="2.2" fill="#1a1a1a"/>
<circle cx="2047.88" cy="351.61" r="2.2" fill="#1a1a1a"/>
<rect x="2058.87" y="486.4" width="23.1" height="7.5" fill="#4c5fb8" stroke="#1a1a1a" stroke-width="1.8" stroke-linejoin="round"/>
<circle cx="2065.22" cy="485.5" r="2.2" fill="#1a1a1a"/>
<circle cx="2075.62" cy="485.5" r="2.2" fill="#1a1a1a"/>
<rect x="2086.61" y="491.51" width="23.1" height="2.39" fill="#4c5fb8" stroke="#1a1a1a" stroke-width="1.8" stroke-linejoin="round"/>
<circle cx="2092.96" cy="490.61" r="2.2" fill="#1a1a1a"/>
<circle cx="2103.36" cy="490.61" r="2.2" fill="#1a1a1a"/>
<circle cx="2120.7" cy="493.44" r="2.2" fill="#1a1a1a"/>
<circle cx="2131.1" cy="493.44" r="2.2" fill="#1a1a1a"/>
<line x1="1197.6" y1="74.35" x2="1197.6" y2="494.7" stroke="#1a1a1a" stroke-width="1.6" stroke-linecap="butt"/>
<line x1="1187.6" y1="493.9" x2="2149" y2="493.9" stroke="#1a1a1a" stroke-width="1.6" stroke-linecap="butt"/>
<text x="1185.4" y="502.2" font-size="27.0" text-anchor="end" font-weight="normal" >0.0</text>
<line x1="1187.6" y1="441.56" x2="1197.6" y2="441.56" stroke="#1a1a1a" stroke-width="1.6" stroke-linecap="butt"/>
<text x="1185.4" y="449.86" font-size="27.0" text-anchor="end" font-weight="normal" >0.2</text>
<line x1="1187.6" y1="389.21" x2="1197.6" y2="389.21" stroke="#1a1a1a" stroke-width="1.6" stroke-linecap="butt"/>
<text x="1185.4" y="397.51" font-size="27.0" text-anchor="end" font-weight="normal" >0.4</text>
<line x1="1187.6" y1="336.87" x2="1197.6" y2="336.87" stroke="#1a1a1a" stroke-width="1.6" stroke-linecap="butt"/>
<text x="1185.4" y="345.17" font-size="27.0" text-anchor="end" font-weight="normal" >0.6</text>
<line x1="1187.6" y1="284.52" x2="1197.6" y2="284.52" stroke="#1a1a1a" stroke-width="1.6" stroke-linecap="butt"/>
<text x="1185.4" y="292.82" font-size="27.0" text-anchor="end" font-weight="normal" >0.8</text>
<line x1="1187.6" y1="232.18" x2="1197.6" y2="232.18" stroke="#1a1a1a" stroke-width="1.6" stroke-linecap="butt"/>
<text x="1185.4" y="240.48" font-size="27.0" text-anchor="end" font-weight="normal" >1.0</text>
<line x1="1187.6" y1="179.84" x2="1197.6" y2="179.84" stroke="#1a1a1a" stroke-width="1.6" stroke-linecap="butt"/>
<text x="1185.4" y="188.14" font-size="27.0" text-anchor="end" font-weight="normal" >1.2</text>
<line x1="1187.6" y1="127.49" x2="1197.6" y2="127.49" stroke="#1a1a1a" stroke-width="1.6" stroke-linecap="butt"/>
<text x="1185.4" y="135.79" font-size="27.0" text-anchor="end" font-weight="normal" >1.4</text>
<line x1="1187.6" y1="75.15" x2="1197.6" y2="75.15" stroke="#1a1a1a" stroke-width="1.6" stroke-linecap="butt"/>
<text x="1185.4" y="83.45" font-size="27.0" text-anchor="end" font-weight="normal" >1.6</text>
<line x1="1220.5" y1="493.9" x2="1220.5" y2="503.9" stroke="#1a1a1a" stroke-width="1.6" stroke-linecap="butt"/>
<text transform="translate(1226.9,517.5) rotate(-45)" font-size="27.0" text-anchor="end">100<tspan dx="1.8 0.9 -4.2">o/n</tspan></text>
<line x1="1248.24" y1="493.9" x2="1248.24" y2="503.9" stroke="#1a1a1a" stroke-width="1.6" stroke-linecap="butt"/>
<text transform="translate(1255.09,517.5) rotate(-45)" font-size="27.0" text-anchor="end">100</text>
<line x1="1275.98" y1="493.9" x2="1275.98" y2="503.9" stroke="#1a1a1a" stroke-width="1.6" stroke-linecap="butt"/>
<text transform="translate(1283.28,517.5) rotate(-45)" font-size="27.0" text-anchor="end">50</text>
<line x1="1303.72" y1="493.9" x2="1303.72" y2="503.9" stroke="#1a1a1a" stroke-width="1.6" stroke-linecap="butt"/>
<text transform="translate(1311.47,517.5) rotate(-45)" font-size="27.0" text-anchor="end">10</text>
<line x1="1331.46" y1="493.9" x2="1331.46" y2="503.9" stroke="#1a1a1a" stroke-width="1.6" stroke-linecap="butt"/>
<text transform="translate(1339.66,517.5) rotate(-45)" font-size="27.0" text-anchor="end">100<tspan dx="1.8 0.9 -4.2">o/n</tspan></text>
<line x1="1359.2" y1="493.9" x2="1359.2" y2="503.9" stroke="#1a1a1a" stroke-width="1.6" stroke-linecap="butt"/>
<text transform="translate(1367.85,517.5) rotate(-45)" font-size="27.0" text-anchor="end">100</text>
<line x1="1386.94" y1="493.9" x2="1386.94" y2="503.9" stroke="#1a1a1a" stroke-width="1.6" stroke-linecap="butt"/>
<text transform="translate(1396.04,517.5) rotate(-45)" font-size="27.0" text-anchor="end">50</text>
<line x1="1414.68" y1="493.9" x2="1414.68" y2="503.9" stroke="#1a1a1a" stroke-width="1.6" stroke-linecap="butt"/>
<text transform="translate(1424.23,517.5) rotate(-45)" font-size="27.0" text-anchor="end">10</text>
<line x1="1442.42" y1="493.9" x2="1442.42" y2="503.9" stroke="#1a1a1a" stroke-width="1.6" stroke-linecap="butt"/>
<text transform="translate(1452.42,517.5) rotate(-45)" font-size="27.0" text-anchor="end">100<tspan dx="1.8 0.9 -4.2">o/n</tspan></text>
<line x1="1470.16" y1="493.9" x2="1470.16" y2="503.9" stroke="#1a1a1a" stroke-width="1.6" stroke-linecap="butt"/>
<text transform="translate(1480.61,517.5) rotate(-45)" font-size="27.0" text-anchor="end">100</text>
<line x1="1497.9" y1="493.9" x2="1497.9" y2="503.9" stroke="#1a1a1a" stroke-width="1.6" stroke-linecap="butt"/>
<text transform="translate(1508.8,517.5) rotate(-45)" font-size="27.0" text-anchor="end">50</text>
<line x1="1525.64" y1="493.9" x2="1525.64" y2="503.9" stroke="#1a1a1a" stroke-width="1.6" stroke-linecap="butt"/>
<text transform="translate(1536.99,517.5) rotate(-45)" font-size="27.0" text-anchor="end">10</text>
<line x1="1553.38" y1="493.9" x2="1553.38" y2="503.9" stroke="#1a1a1a" stroke-width="1.6" stroke-linecap="butt"/>
<text transform="translate(1565.18,517.5) rotate(-45)" font-size="27.0" text-anchor="end">100<tspan dx="1.8 0.9 -4.2">o/n</tspan></text>
<line x1="1581.12" y1="493.9" x2="1581.12" y2="503.9" stroke="#1a1a1a" stroke-width="1.6" stroke-linecap="butt"/>
<text transform="translate(1593.37,517.5) rotate(-45)" font-size="27.0" text-anchor="end">100</text>
<line x1="1608.86" y1="493.9" x2="1608.86" y2="503.9" stroke="#1a1a1a" stroke-width="1.6" stroke-linecap="butt"/>
<text transform="translate(1621.56,517.5) rotate(-45)" font-size="27.0" text-anchor="end">50</text>
<line x1="1636.6" y1="493.9" x2="1636.6" y2="503.9" stroke="#1a1a1a" stroke-width="1.6" stroke-linecap="butt"/>
<text transform="translate(1649.75,517.5) rotate(-45)" font-size="27.0" text-anchor="end">10</text>
<line x1="1709.8" y1="493.9" x2="1709.8" y2="503.9" stroke="#1a1a1a" stroke-width="1.6" stroke-linecap="butt"/>
<text transform="translate(1717.3,517.5) rotate(-45)" font-size="27.0" text-anchor="end">100<tspan dx="1.8 0.9 -4.2">o/n</tspan></text>
<line x1="1737.54" y1="493.9" x2="1737.54" y2="503.9" stroke="#1a1a1a" stroke-width="1.6" stroke-linecap="butt"/>
<text transform="translate(1745.32,517.5) rotate(-45)" font-size="27.0" text-anchor="end">100</text>
<line x1="1765.28" y1="493.9" x2="1765.28" y2="503.9" stroke="#1a1a1a" stroke-width="1.6" stroke-linecap="butt"/>
<text transform="translate(1773.34,517.5) rotate(-45)" font-size="27.0" text-anchor="end">50</text>
<line x1="1793.02" y1="493.9" x2="1793.02" y2="503.9" stroke="#1a1a1a" stroke-width="1.6" stroke-linecap="butt"/>
<text transform="translate(1801.36,517.5) rotate(-45)" font-size="27.0" text-anchor="end">10</text>
<line x1="1820.76" y1="493.9" x2="1820.76" y2="503.9" stroke="#1a1a1a" stroke-width="1.6" stroke-linecap="butt"/>
<text transform="translate(1829.38,517.5) rotate(-45)" font-size="27.0" text-anchor="end">100<tspan dx="1.8 0.9 -4.2">o/n</tspan></text>
<line x1="1848.5" y1="493.9" x2="1848.5" y2="503.9" stroke="#1a1a1a" stroke-width="1.6" stroke-linecap="butt"/>
<text transform="translate(1857.4,517.5) rotate(-45)" font-size="27.0" text-anchor="end">100</text>
<line x1="1876.24" y1="493.9" x2="1876.24" y2="503.9" stroke="#1a1a1a" stroke-width="1.6" stroke-linecap="butt"/>
<text transform="translate(1885.42,517.5) rotate(-45)" font-size="27.0" text-anchor="end">50</text>
<line x1="1903.98" y1="493.9" x2="1903.98" y2="503.9" stroke="#1a1a1a" stroke-width="1.6" stroke-linecap="butt"/>
<text transform="translate(1913.44,517.5) rotate(-45)" font-size="27.0" text-anchor="end">10</text>
<line x1="1931.72" y1="493.9" x2="1931.72" y2="503.9" stroke="#1a1a1a" stroke-width="1.6" stroke-linecap="butt"/>
<text transform="translate(1941.46,517.5) rotate(-45)" font-size="27.0" text-anchor="end">100<tspan dx="1.8 0.9 -4.2">o/n</tspan></text>
<line x1="1959.46" y1="493.9" x2="1959.46" y2="503.9" stroke="#1a1a1a" stroke-width="1.6" stroke-linecap="butt"/>
<text transform="translate(1969.48,517.5) rotate(-45)" font-size="27.0" text-anchor="end">100</text>
<line x1="1987.2" y1="493.9" x2="1987.2" y2="503.9" stroke="#1a1a1a" stroke-width="1.6" stroke-linecap="butt"/>
<text transform="translate(1997.5,517.5) rotate(-45)" font-size="27.0" text-anchor="end">50</text>
<line x1="2014.94" y1="493.9" x2="2014.94" y2="503.9" stroke="#1a1a1a" stroke-width="1.6" stroke-linecap="butt"/>
<text transform="translate(2025.52,517.5) rotate(-45)" font-size="27.0" text-anchor="end">10</text>
<line x1="2042.68" y1="493.9" x2="2042.68" y2="503.9" stroke="#1a1a1a" stroke-width="1.6" stroke-linecap="butt"/>
<text transform="translate(2053.54,517.5) rotate(-45)" font-size="27.0" text-anchor="end">100<tspan dx="1.8 0.9 -4.2">o/n</tspan></text>
<line x1="2070.42" y1="493.9" x2="2070.42" y2="503.9" stroke="#1a1a1a" stroke-width="1.6" stroke-linecap="butt"/>
<text transform="translate(2081.56,517.5) rotate(-45)" font-size="27.0" text-anchor="end">100</text>
<line x1="2098.16" y1="493.9" x2="2098.16" y2="503.9" stroke="#1a1a1a" stroke-width="1.6" stroke-linecap="butt"/>
<text transform="translate(2109.58,517.5) rotate(-45)" font-size="27.0" text-anchor="end">50</text>
<line x1="2125.9" y1="493.9" x2="2125.9" y2="503.9" stroke="#1a1a1a" stroke-width="1.6" stroke-linecap="butt"/>
<text transform="translate(2137.6,517.5) rotate(-45)" font-size="27.0" text-anchor="end">10</text>
<text transform="translate(1131.8,263.7) rotate(-90)" font-size="26.5" text-anchor="middle">Derived median CPY/mEGFP</text>
<line x1="1203.3" y1="70.55" x2="1663" y2="70.55" stroke="#000" stroke-width="1.8" stroke-linecap="butt"/>
<line x1="1685" y1="70.55" x2="2147.6" y2="70.55" stroke="#000" stroke-width="1.8" stroke-linecap="butt"/>
<text transform="translate(1364.8,60.9) scale(0.964,1)" font-size="30.5" font-weight="bold" fill="#000">SNAP-tag2</text>
<text transform="translate(1840.9,58.4) scale(0.964,1)" font-size="30.5" font-weight="bold" fill="#000">SNAP<tspan font-size="22.0" dy="7.8" dx="-0.3">f</tspan><tspan dy="-7.8" dx="3.6">-tag</tspan></text>
<rect x="2049.6" y="81.4" width="19.6" height="19.8" fill="#3c3489"/>
<text x="2073.9" y="97.8" font-size="18.4" text-anchor="start" font-weight="normal" >TF-CPY</text>
<rect x="2049.6" y="109.6" width="19.6" height="19.8" fill="#9fc3e7"/>
<text x="2073.9" y="126" font-size="18.4" text-anchor="start" font-weight="normal" >CF-CPY</text>
<rect x="2049.6" y="134.7" width="19.6" height="19.8" fill="#4290a0"/>
<text x="2073.9" y="151.1" font-size="18.4" text-anchor="start" font-weight="normal" >CP-CPY</text>
<rect x="2049.6" y="161" width="19.6" height="19.8" fill="#4c5fb8"/>
<text x="2073.9" y="177.4" font-size="18.4" text-anchor="start" font-weight="normal" >BG-CPY</text>
<text transform="translate(1099.3,27.4) scale(1.01,1)" font-size="38.0" font-weight="bold" fill="#1c1c1c">b</text>
</g>
<g>
<rect x="108.67" y="787.11" width="22.85" height="309.24" fill="#63175f" stroke="#1a1a1a" stroke-width="1.8" stroke-linejoin="round"/>
<line x1="120.1" y1="780.4" x2="120.1" y2="793.41" stroke="#5c5c5c" stroke-width="1.0" stroke-linecap="butt"/>
<line x1="114.4" y1="780.4" x2="125.8" y2="780.4" stroke="#5c5c5c" stroke-width="1.0" stroke-linecap="butt"/>
<line x1="114.4" y1="793.41" x2="125.8" y2="793.41" stroke="#5c5c5c" stroke-width="1.0" stroke-linecap="butt"/>
<circle cx="120.1" cy="791.51" r="2.6" fill="#1a1a1a"/>
<circle cx="120.1" cy="782.31" r="2.6" fill="#1a1a1a"/>
<rect x="136.39" y="857.5" width="22.85" height="238.85" fill="#63175f" stroke="#1a1a1a" stroke-width="1.8" stroke-linejoin="round"/>
<circle cx="142.62" cy="856.6" r="2.6" fill="#1a1a1a"/>
<circle cx="153.02" cy="856.6" r="2.6" fill="#1a1a1a"/>
<rect x="164.11" y="924.58" width="22.85" height="171.77" fill="#63175f" stroke="#1a1a1a" stroke-width="1.8" stroke-linejoin="round"/>
<line x1="175.54" y1="921.56" x2="175.54" y2="925.8" stroke="#5c5c5c" stroke-width="1.0" stroke-linecap="butt"/>
<line x1="169.84" y1="921.56" x2="181.24" y2="921.56" stroke="#5c5c5c" stroke-width="1.0" stroke-linecap="butt"/>
<line x1="169.84" y1="925.8" x2="181.24" y2="925.8" stroke="#5c5c5c" stroke-width="1.0" stroke-linecap="butt"/>
<circle cx="170.34" cy="925.18" r="2.6" fill="#1a1a1a"/>
<circle cx="180.74" cy="922.18" r="2.6" fill="#1a1a1a"/>
<rect x="191.83" y="1060.8" width="22.85" height="35.55" fill="#63175f" stroke="#1a1a1a" stroke-width="1.8" stroke-linejoin="round"/>
<circle cx="198.06" cy="1059.9" r="2.6" fill="#1a1a1a"/>
<circle cx="208.46" cy="1059.9" r="2.6" fill="#1a1a1a"/>
<rect x="219.55" y="739.21" width="22.85" height="357.14" fill="#792b9e" stroke="#1a1a1a" stroke-width="1.8" stroke-linejoin="round"/>
<line x1="230.98" y1="732.86" x2="230.98" y2="745.17" stroke="#5c5c5c" stroke-width="1.0" stroke-linecap="butt"/>
<line x1="225.28" y1="732.86" x2="236.68" y2="732.86" stroke="#5c5c5c" stroke-width="1.0" stroke-linecap="butt"/>
<line x1="225.28" y1="745.17" x2="236.68" y2="745.17" stroke="#5c5c5c" stroke-width="1.0" stroke-linecap="butt"/>
<circle cx="230.98" cy="743.36" r="2.6" fill="#1a1a1a"/>
<circle cx="230.98" cy="734.66" r="2.6" fill="#1a1a1a"/>
<rect x="247.27" y="820.38" width="22.85" height="275.97" fill="#792b9e" stroke="#1a1a1a" stroke-width="1.8" stroke-linejoin="round"/>
<line x1="258.7" y1="817.36" x2="258.7" y2="821.6" stroke="#5c5c5c" stroke-width="1.0" stroke-linecap="butt"/>
<line x1="253" y1="817.36" x2="264.4" y2="817.36" stroke="#5c5c5c" stroke-width="1.0" stroke-linecap="butt"/>
<line x1="253" y1="821.6" x2="264.4" y2="821.6" stroke="#5c5c5c" stroke-width="1.0" stroke-linecap="butt"/>
<circle cx="253.5" cy="820.98" r="2.6" fill="#1a1a1a"/>
<circle cx="263.9" cy="817.98" r="2.6" fill="#1a1a1a"/>
<rect x="274.99" y="856.28" width="22.85" height="240.07" fill="#792b9e" stroke="#1a1a1a" stroke-width="1.8" stroke-linejoin="round"/>
<line x1="286.42" y1="853.25" x2="286.42" y2="857.5" stroke="#5c5c5c" stroke-width="1.0" stroke-linecap="butt"/>
<line x1="280.72" y1="853.25" x2="292.12" y2="853.25" stroke="#5c5c5c" stroke-width="1.0" stroke-linecap="butt"/>
<line x1="280.72" y1="857.5" x2="292.12" y2="857.5" stroke="#5c5c5c" stroke-width="1.0" stroke-linecap="butt"/>
<circle cx="281.22" cy="856.88" r="2.6" fill="#1a1a1a"/>
<circle cx="291.62" cy="853.88" r="2.6" fill="#1a1a1a"/>
<rect x="302.71" y="1004.4" width="22.85" height="91.95" fill="#792b9e" stroke="#1a1a1a" stroke-width="1.8" stroke-linejoin="round"/>
<line x1="314.14" y1="1000.24" x2="314.14" y2="1008.16" stroke="#5c5c5c" stroke-width="1.0" stroke-linecap="butt"/>
<line x1="308.44" y1="1000.24" x2="319.84" y2="1000.24" stroke="#5c5c5c" stroke-width="1.0" stroke-linecap="butt"/>
<line x1="308.44" y1="1008.16" x2="319.84" y2="1008.16" stroke="#5c5c5c" stroke-width="1.0" stroke-linecap="butt"/>
<circle cx="314.14" cy="1007" r="2.6" fill="#1a1a1a"/>
<circle cx="314.14" cy="1001.4" r="2.6" fill="#1a1a1a"/>
<rect x="330.44" y="781.5" width="22.85" height="314.85" fill="#e9368b" stroke="#1a1a1a" stroke-width="1.8" stroke-linejoin="round"/>
<line x1="341.86" y1="778.48" x2="341.86" y2="782.72" stroke="#5c5c5c" stroke-width="1.0" stroke-linecap="butt"/>
<line x1="336.16" y1="778.48" x2="347.56" y2="778.48" stroke="#5c5c5c" stroke-width="1.0" stroke-linecap="butt"/>
<line x1="336.16" y1="782.72" x2="347.56" y2="782.72" stroke="#5c5c5c" stroke-width="1.0" stroke-linecap="butt"/>
<circle cx="336.66" cy="782.1" r="2.6" fill="#1a1a1a"/>
<circle cx="347.06" cy="779.1" r="2.6" fill="#1a1a1a"/>
<rect x="358.15" y="847.03" width="22.85" height="249.32" fill="#e9368b" stroke="#1a1a1a" stroke-width="1.8" stroke-linejoin="round"/>
<line x1="369.58" y1="844" x2="369.58" y2="848.25" stroke="#5c5c5c" stroke-width="1.0" stroke-linecap="butt"/>
<line x1="363.88" y1="844" x2="375.28" y2="844" stroke="#5c5c5c" stroke-width="1.0" stroke-linecap="butt"/>
<line x1="363.88" y1="848.25" x2="375.28" y2="848.25" stroke="#5c5c5c" stroke-width="1.0" stroke-linecap="butt"/>
<circle cx="364.38" cy="847.63" r="2.6" fill="#1a1a1a"/>
<circle cx="374.78" cy="844.63" r="2.6" fill="#1a1a1a"/>
<rect x="385.87" y="894.59" width="22.85" height="201.76" fill="#e9368b" stroke="#1a1a1a" stroke-width="1.8" stroke-linejoin="round"/>
<line x1="397.3" y1="891.57" x2="397.3" y2="895.81" stroke="#5c5c5c" stroke-width="1.0" stroke-linecap="butt"/>
<line x1="391.6" y1="891.57" x2="403" y2="891.57" stroke="#5c5c5c" stroke-width="1.0" stroke-linecap="butt"/>
<line x1="391.6" y1="895.81" x2="403" y2="895.81" stroke="#5c5c5c" stroke-width="1.0" stroke-linecap="butt"/>
<circle cx="392.1" cy="895.19" r="2.6" fill="#1a1a1a"/>
<circle cx="402.5" cy="892.19" r="2.6" fill="#1a1a1a"/>
<rect x="413.59" y="1038.51" width="22.85" height="57.84" fill="#e9368b" stroke="#1a1a1a" stroke-width="1.8" stroke-linejoin="round"/>
<line x1="425.02" y1="1035.49" x2="425.02" y2="1039.73" stroke="#5c5c5c" stroke-width="1.0" stroke-linecap="butt"/>
<line x1="419.32" y1="1035.49" x2="430.72" y2="1035.49" stroke="#5c5c5c" stroke-width="1.0" stroke-linecap="butt"/>
<line x1="419.32" y1="1039.73" x2="430.72" y2="1039.73" stroke="#5c5c5c" stroke-width="1.0" stroke-linecap="butt"/>
<circle cx="419.82" cy="1039.11" r="2.6" fill="#1a1a1a"/>
<circle cx="430.22" cy="1036.11" r="2.6" fill="#1a1a1a"/>
<rect x="441.31" y="836.79" width="22.85" height="259.56" fill="#6269b9" stroke="#1a1a1a" stroke-width="1.8" stroke-linejoin="round"/>
<circle cx="447.54" cy="835.89" r="2.6" fill="#1a1a1a"/>
<circle cx="457.94" cy="835.89" r="2.6" fill="#1a1a1a"/>
<rect x="469.04" y="954.81" width="22.85" height="141.54" fill="#6269b9" stroke="#1a1a1a" stroke-width="1.8" stroke-linejoin="round"/>
<line x1="480.46" y1="951.79" x2="480.46" y2="956.03" stroke="#5c5c5c" stroke-width="1.0" stroke-linecap="butt"/>
<line x1="474.76" y1="951.79" x2="486.16" y2="951.79" stroke="#5c5c5c" stroke-width="1.0" stroke-linecap="butt"/>
<line x1="474.76" y1="956.03" x2="486.16" y2="956.03" stroke="#5c5c5c" stroke-width="1.0" stroke-linecap="butt"/>
<circle cx="475.26" cy="955.41" r="2.6" fill="#1a1a1a"/>
<circle cx="485.66" cy="952.41" r="2.6" fill="#1a1a1a"/>
<rect x="496.75" y="1028.21" width="22.85" height="68.14" fill="#6269b9" stroke="#1a1a1a" stroke-width="1.8" stroke-linejoin="round"/>
<circle cx="502.98" cy="1027.31" r="2.6" fill="#1a1a1a"/>
<circle cx="513.38" cy="1027.31" r="2.6" fill="#1a1a1a"/>
<rect x="524.48" y="1087.15" width="22.85" height="9.2" fill="#6269b9" stroke="#1a1a1a" stroke-width="1.8" stroke-linejoin="round"/>
<circle cx="530.7" cy="1086.25" r="2.6" fill="#1a1a1a"/>
<circle cx="541.1" cy="1086.25" r="2.6" fill="#1a1a1a"/>
<rect x="597.48" y="890.8" width="22.85" height="205.55" fill="#63175f" stroke="#1a1a1a" stroke-width="1.8" stroke-linejoin="round"/>
<circle cx="603.7" cy="889.9" r="2.6" fill="#1a1a1a"/>
<circle cx="614.1" cy="889.9" r="2.6" fill="#1a1a1a"/>
<rect x="625.2" y="1081.51" width="22.85" height="14.84" fill="#63175f" stroke="#1a1a1a" stroke-width="1.8" stroke-linejoin="round"/>
<circle cx="631.42" cy="1080.61" r="2.6" fill="#1a1a1a"/>
<circle cx="641.82" cy="1080.61" r="2.6" fill="#1a1a1a"/>
<rect x="652.91" y="1090.19" width="22.85" height="6.16" fill="#63175f" stroke="#1a1a1a" stroke-width="1.8" stroke-linejoin="round"/>
<circle cx="659.14" cy="1089.29" r="2.6" fill="#1a1a1a"/>
<circle cx="669.54" cy="1089.29" r="2.6" fill="#1a1a1a"/>
<circle cx="686.86" cy="1095.2" r="2.6" fill="#1a1a1a"/>
<circle cx="697.26" cy="1095.2" r="2.6" fill="#1a1a1a"/>
<rect x="708.36" y="869.61" width="22.85" height="226.74" fill="#792b9e" stroke="#1a1a1a" stroke-width="1.8" stroke-linejoin="round"/>
<line x1="719.78" y1="865.88" x2="719.78" y2="872.95" stroke="#5c5c5c" stroke-width="1.0" stroke-linecap="butt"/>
<line x1="714.08" y1="865.88" x2="725.48" y2="865.88" stroke="#5c5c5c" stroke-width="1.0" stroke-linecap="butt"/>
<line x1="714.08" y1="872.95" x2="725.48" y2="872.95" stroke="#5c5c5c" stroke-width="1.0" stroke-linecap="butt"/>
<circle cx="719.78" cy="871.91" r="2.6" fill="#1a1a1a"/>
<circle cx="719.78" cy="866.91" r="2.6" fill="#1a1a1a"/>
<rect x="736.08" y="1073.57" width="22.85" height="22.78" fill="#792b9e" stroke="#1a1a1a" stroke-width="1.8" stroke-linejoin="round"/>
<line x1="747.5" y1="1070.55" x2="747.5" y2="1074.79" stroke="#5c5c5c" stroke-width="1.0" stroke-linecap="butt"/>
<line x1="741.8" y1="1070.55" x2="753.2" y2="1070.55" stroke="#5c5c5c" stroke-width="1.0" stroke-linecap="butt"/>
<line x1="741.8" y1="1074.79" x2="753.2" y2="1074.79" stroke="#5c5c5c" stroke-width="1.0" stroke-linecap="butt"/>
<circle cx="742.3" cy="1074.17" r="2.6" fill="#1a1a1a"/>
<circle cx="752.7" cy="1071.17" r="2.6" fill="#1a1a1a"/>
<rect x="763.8" y="1086.61" width="22.85" height="9.74" fill="#792b9e" stroke="#1a1a1a" stroke-width="1.8" stroke-linejoin="round"/>
<circle cx="770.02" cy="1085.71" r="2.6" fill="#1a1a1a"/>
<circle cx="780.42" cy="1085.71" r="2.6" fill="#1a1a1a"/>
<rect x="791.51" y="1094.91" width="22.85" height="1.44" fill="#792b9e" stroke="#1a1a1a" stroke-width="1.8" stroke-linejoin="round"/>
<circle cx="797.74" cy="1094.61" r="2.6" fill="#1a1a1a"/>
<circle cx="808.14" cy="1094.61" r="2.6" fill="#1a1a1a"/>
<rect x="819.24" y="899.45" width="22.85" height="196.9" fill="#e9368b" stroke="#1a1a1a" stroke-width="1.8" stroke-linejoin="round"/>
<circle cx="825.46" cy="898.55" r="2.6" fill="#1a1a1a"/>
<circle cx="835.86" cy="898.55" r="2.6" fill="#1a1a1a"/>
<rect x="846.96" y="1077.69" width="22.85" height="18.66" fill="#e9368b" stroke="#1a1a1a" stroke-width="1.8" stroke-linejoin="round"/>
<circle cx="853.18" cy="1076.79" r="2.6" fill="#1a1a1a"/>
<circle cx="863.58" cy="1076.79" r="2.6" fill="#1a1a1a"/>
<rect x="874.67" y="1087.89" width="22.85" height="8.46" fill="#e9368b" stroke="#1a1a1a" stroke-width="1.8" stroke-linejoin="round"/>
<circle cx="880.9" cy="1086.99" r="2.6" fill="#1a1a1a"/>
<circle cx="891.3" cy="1086.99" r="2.6" fill="#1a1a1a"/>
<rect x="902.39" y="1095.2" width="22.85" height="1.15" fill="#e9368b" stroke="#1a1a1a" stroke-width="1.8" stroke-linejoin="round"/>
<circle cx="908.62" cy="1094.9" r="2.6" fill="#1a1a1a"/>
<circle cx="919.02" cy="1094.9" r="2.6" fill="#1a1a1a"/>
<rect x="930.12" y="880.06" width="22.85" height="216.29" fill="#6269b9" stroke="#1a1a1a" stroke-width="1.8" stroke-linejoin="round"/>
<line x1="941.54" y1="877.04" x2="941.54" y2="881.28" stroke="#5c5c5c" stroke-width="1.0" stroke-linecap="butt"/>
<line x1="935.84" y1="877.04" x2="947.24" y2="877.04" stroke="#5c5c5c" stroke-width="1.0" stroke-linecap="butt"/>
<line x1="935.84" y1="881.28" x2="947.24" y2="881.28" stroke="#5c5c5c" stroke-width="1.0" stroke-linecap="butt"/>
<circle cx="936.34" cy="880.66" r="2.6" fill="#1a1a1a"/>
<circle cx="946.74" cy="877.66" r="2.6" fill="#1a1a1a"/>
<rect x="957.84" y="1067.69" width="22.85" height="28.66" fill="#6269b9" stroke="#1a1a1a" stroke-width="1.8" stroke-linejoin="round"/>
<circle cx="964.06" cy="1066.79" r="2.6" fill="#1a1a1a"/>
<circle cx="974.46" cy="1066.79" r="2.6" fill="#1a1a1a"/>
<rect x="985.56" y="1086.61" width="22.85" height="9.74" fill="#6269b9" stroke="#1a1a1a" stroke-width="1.8" stroke-linejoin="round"/>
<circle cx="991.78" cy="1085.71" r="2.6" fill="#1a1a1a"/>
<circle cx="1002.18" cy="1085.71" r="2.6" fill="#1a1a1a"/>
<rect x="1013.27" y="1095.2" width="22.85" height="1.15" fill="#6269b9" stroke="#1a1a1a" stroke-width="1.8" stroke-linejoin="round"/>
<circle cx="1019.5" cy="1094.9" r="2.6" fill="#1a1a1a"/>
<circle cx="1029.9" cy="1094.9" r="2.6" fill="#1a1a1a"/>
<line x1="96.95" y1="677.1" x2="96.95" y2="1097.15" stroke="#1a1a1a" stroke-width="1.6" stroke-linecap="butt"/>
<line x1="86.95" y1="1096.35" x2="1048.5" y2="1096.35" stroke="#1a1a1a" stroke-width="1.6" stroke-linecap="butt"/>
<text x="81.1" y="1104.45" font-size="27.0" text-anchor="end" font-weight="normal" >0.0</text>
<line x1="86.95" y1="1036.57" x2="96.95" y2="1036.57" stroke="#1a1a1a" stroke-width="1.6" stroke-linecap="butt"/>
<text x="81.1" y="1044.67" font-size="27.0" text-anchor="end" font-weight="normal" >0.2</text>
<line x1="86.95" y1="976.79" x2="96.95" y2="976.79" stroke="#1a1a1a" stroke-width="1.6" stroke-linecap="butt"/>
<text x="81.1" y="984.89" font-size="27.0" text-anchor="end" font-weight="normal" >0.4</text>
<line x1="86.95" y1="917.01" x2="96.95" y2="917.01" stroke="#1a1a1a" stroke-width="1.6" stroke-linecap="butt"/>
<text x="81.1" y="925.11" font-size="27.0" text-anchor="end" font-weight="normal" >0.6</text>
<line x1="86.95" y1="857.24" x2="96.95" y2="857.24" stroke="#1a1a1a" stroke-width="1.6" stroke-linecap="butt"/>
<text x="81.1" y="865.34" font-size="27.0" text-anchor="end" font-weight="normal" >0.8</text>
<line x1="86.95" y1="797.46" x2="96.95" y2="797.46" stroke="#1a1a1a" stroke-width="1.6" stroke-linecap="butt"/>
<text x="81.1" y="805.56" font-size="27.0" text-anchor="end" font-weight="normal" >1.0</text>
<line x1="86.95" y1="737.68" x2="96.95" y2="737.68" stroke="#1a1a1a" stroke-width="1.6" stroke-linecap="butt"/>
<text x="81.1" y="745.78" font-size="27.0" text-anchor="end" font-weight="normal" >1.2</text>
<line x1="86.95" y1="677.9" x2="96.95" y2="677.9" stroke="#1a1a1a" stroke-width="1.6" stroke-linecap="butt"/>
<text x="81.1" y="686" font-size="27.0" text-anchor="end" font-weight="normal" >1.4</text>
<line x1="120.1" y1="1096.35" x2="120.1" y2="1106.35" stroke="#1a1a1a" stroke-width="1.6" stroke-linecap="butt"/>
<text transform="translate(122.6,1120.65) rotate(-45)" font-size="27.0" text-anchor="end">100<tspan dx="1.8 0.9 -4.2">o/n</tspan></text>
<line x1="147.82" y1="1096.35" x2="147.82" y2="1106.35" stroke="#1a1a1a" stroke-width="1.6" stroke-linecap="butt"/>
<text transform="translate(150.6,1120.65) rotate(-45)" font-size="27.0" text-anchor="end">100</text>
<line x1="175.54" y1="1096.35" x2="175.54" y2="1106.35" stroke="#1a1a1a" stroke-width="1.6" stroke-linecap="butt"/>
<text transform="translate(178.6,1120.65) rotate(-45)" font-size="27.0" text-anchor="end">50</text>
<line x1="203.26" y1="1096.35" x2="203.26" y2="1106.35" stroke="#1a1a1a" stroke-width="1.6" stroke-linecap="butt"/>
<text transform="translate(206.6,1120.65) rotate(-45)" font-size="27.0" text-anchor="end">10</text>
<line x1="230.98" y1="1096.35" x2="230.98" y2="1106.35" stroke="#1a1a1a" stroke-width="1.6" stroke-linecap="butt"/>
<text transform="translate(234.6,1120.65) rotate(-45)" font-size="27.0" text-anchor="end">100<tspan dx="1.8 0.9 -4.2">o/n</tspan></text>
<line x1="258.7" y1="1096.35" x2="258.7" y2="1106.35" stroke="#1a1a1a" stroke-width="1.6" stroke-linecap="butt"/>
<text transform="translate(262.6,1120.65) rotate(-45)" font-size="27.0" text-anchor="end">100</text>
<line x1="286.42" y1="1096.35" x2="286.42" y2="1106.35" stroke="#1a1a1a" stroke-width="1.6" stroke-linecap="butt"/>
<text transform="translate(290.6,1120.65) rotate(-45)" font-size="27.0" text-anchor="end">50</text>
<line x1="314.14" y1="1096.35" x2="314.14" y2="1106.35" stroke="#1a1a1a" stroke-width="1.6" stroke-linecap="butt"/>
<text transform="translate(318.6,1120.65) rotate(-45)" font-size="27.0" text-anchor="end">10</text>
<line x1="341.86" y1="1096.35" x2="341.86" y2="1106.35" stroke="#1a1a1a" stroke-width="1.6" stroke-linecap="butt"/>
<text transform="translate(346.6,1120.65) rotate(-45)" font-size="27.0" text-anchor="end">100<tspan dx="1.8 0.9 -4.2">o/n</tspan></text>
<line x1="369.58" y1="1096.35" x2="369.58" y2="1106.35" stroke="#1a1a1a" stroke-width="1.6" stroke-linecap="butt"/>
<text transform="translate(374.6,1120.65) rotate(-45)" font-size="27.0" text-anchor="end">100</text>
<line x1="397.3" y1="1096.35" x2="397.3" y2="1106.35" stroke="#1a1a1a" stroke-width="1.6" stroke-linecap="butt"/>
<text transform="translate(402.6,1120.65) rotate(-45)" font-size="27.0" text-anchor="end">50</text>
<line x1="425.02" y1="1096.35" x2="425.02" y2="1106.35" stroke="#1a1a1a" stroke-width="1.6" stroke-linecap="butt"/>
<text transform="translate(430.6,1120.65) rotate(-45)" font-size="27.0" text-anchor="end">10</text>
<line x1="452.74" y1="1096.35" x2="452.74" y2="1106.35" stroke="#1a1a1a" stroke-width="1.6" stroke-linecap="butt"/>
<text transform="translate(458.6,1120.65) rotate(-45)" font-size="27.0" text-anchor="end">100<tspan dx="1.8 0.9 -4.2">o/n</tspan></text>
<line x1="480.46" y1="1096.35" x2="480.46" y2="1106.35" stroke="#1a1a1a" stroke-width="1.6" stroke-linecap="butt"/>
<text transform="translate(486.6,1120.65) rotate(-45)" font-size="27.0" text-anchor="end">100</text>
<line x1="508.18" y1="1096.35" x2="508.18" y2="1106.35" stroke="#1a1a1a" stroke-width="1.6" stroke-linecap="butt"/>
<text transform="translate(514.6,1120.65) rotate(-45)" font-size="27.0" text-anchor="end">50</text>
<line x1="535.9" y1="1096.35" x2="535.9" y2="1106.35" stroke="#1a1a1a" stroke-width="1.6" stroke-linecap="butt"/>
<text transform="translate(542.6,1120.65) rotate(-45)" font-size="27.0" text-anchor="end">10</text>
<line x1="608.9" y1="1096.35" x2="608.9" y2="1106.35" stroke="#1a1a1a" stroke-width="1.6" stroke-linecap="butt"/>
<text transform="translate(618.4,1120.65) rotate(-45)" font-size="27.0" text-anchor="end">100<tspan dx="1.8 0.9 -4.2">o/n</tspan></text>
<line x1="636.62" y1="1096.35" x2="636.62" y2="1106.35" stroke="#1a1a1a" stroke-width="1.6" stroke-linecap="butt"/>
<text transform="translate(646.48,1120.65) rotate(-45)" font-size="27.0" text-anchor="end">100</text>
<line x1="664.34" y1="1096.35" x2="664.34" y2="1106.35" stroke="#1a1a1a" stroke-width="1.6" stroke-linecap="butt"/>
<text transform="translate(674.55,1120.65) rotate(-45)" font-size="27.0" text-anchor="end">50</text>
<line x1="692.06" y1="1096.35" x2="692.06" y2="1106.35" stroke="#1a1a1a" stroke-width="1.6" stroke-linecap="butt"/>
<text transform="translate(702.62,1120.65) rotate(-45)" font-size="27.0" text-anchor="end">10</text>
<line x1="719.78" y1="1096.35" x2="719.78" y2="1106.35" stroke="#1a1a1a" stroke-width="1.6" stroke-linecap="butt"/>
<text transform="translate(730.7,1120.65) rotate(-45)" font-size="27.0" text-anchor="end">100<tspan dx="1.8 0.9 -4.2">o/n</tspan></text>
<line x1="747.5" y1="1096.35" x2="747.5" y2="1106.35" stroke="#1a1a1a" stroke-width="1.6" stroke-linecap="butt"/>
<text transform="translate(758.77,1120.65) rotate(-45)" font-size="27.0" text-anchor="end">100</text>
<line x1="775.22" y1="1096.35" x2="775.22" y2="1106.35" stroke="#1a1a1a" stroke-width="1.6" stroke-linecap="butt"/>
<text transform="translate(786.85,1120.65) rotate(-45)" font-size="27.0" text-anchor="end">50</text>
<line x1="802.94" y1="1096.35" x2="802.94" y2="1106.35" stroke="#1a1a1a" stroke-width="1.6" stroke-linecap="butt"/>
<text transform="translate(814.92,1120.65) rotate(-45)" font-size="27.0" text-anchor="end">10</text>
<line x1="830.66" y1="1096.35" x2="830.66" y2="1106.35" stroke="#1a1a1a" stroke-width="1.6" stroke-linecap="butt"/>
<text transform="translate(843,1120.65) rotate(-45)" font-size="27.0" text-anchor="end">100<tspan dx="1.8 0.9 -4.2">o/n</tspan></text>
<line x1="858.38" y1="1096.35" x2="858.38" y2="1106.35" stroke="#1a1a1a" stroke-width="1.6" stroke-linecap="butt"/>
<text transform="translate(871.08,1120.65) rotate(-45)" font-size="27.0" text-anchor="end">100</text>
<line x1="886.1" y1="1096.35" x2="886.1" y2="1106.35" stroke="#1a1a1a" stroke-width="1.6" stroke-linecap="butt"/>
<text transform="translate(899.15,1120.65) rotate(-45)" font-size="27.0" text-anchor="end">50</text>
<line x1="913.82" y1="1096.35" x2="913.82" y2="1106.35" stroke="#1a1a1a" stroke-width="1.6" stroke-linecap="butt"/>
<text transform="translate(927.22,1120.65) rotate(-45)" font-size="27.0" text-anchor="end">10</text>
<line x1="941.54" y1="1096.35" x2="941.54" y2="1106.35" stroke="#1a1a1a" stroke-width="1.6" stroke-linecap="butt"/>
<text transform="translate(955.3,1120.65) rotate(-45)" font-size="27.0" text-anchor="end">100<tspan dx="1.8 0.9 -4.2">o/n</tspan></text>
<line x1="969.26" y1="1096.35" x2="969.26" y2="1106.35" stroke="#1a1a1a" stroke-width="1.6" stroke-linecap="butt"/>
<text transform="translate(983.38,1120.65) rotate(-45)" font-size="27.0" text-anchor="end">100</text>
<line x1="996.98" y1="1096.35" x2="996.98" y2="1106.35" stroke="#1a1a1a" stroke-width="1.6" stroke-linecap="butt"/>
<text transform="translate(1011.45,1120.65) rotate(-45)" font-size="27.0" text-anchor="end">50</text>
<line x1="1024.7" y1="1096.35" x2="1024.7" y2="1106.35" stroke="#1a1a1a" stroke-width="1.6" stroke-linecap="butt"/>
<text transform="translate(1039.52,1120.65) rotate(-45)" font-size="27.0" text-anchor="end">10</text>
<text transform="translate(32.2,889.5) rotate(-90)" font-size="26.5" text-anchor="middle">Derived median SiR/mEGFP</text>
<line x1="102.1" y1="676.6" x2="561.4" y2="676.6" stroke="#000" stroke-width="1.8" stroke-linecap="butt"/>
<line x1="582.4" y1="676.6" x2="1038.8" y2="676.6" stroke="#000" stroke-width="1.8" stroke-linecap="butt"/>
<text transform="translate(263.7,669.4) scale(0.964,1)" font-size="30.5" font-weight="bold" fill="#000">SNAP-tag2</text>
<text transform="translate(769.7,665) scale(0.964,1)" font-size="30.5" font-weight="bold" fill="#000">SNAP<tspan font-size="22.0" dy="7.8" dx="-0.3">f</tspan><tspan dy="-7.8" dx="3.6">-tag</tspan></text>
<rect x="951.8" y="689.8" width="19.6" height="19.8" fill="#63175f"/>
<text x="975.9" y="706.2" font-size="18.4" text-anchor="start" font-weight="normal" >TF-SiR</text>
<rect x="951.8" y="714.2" width="19.6" height="19.8" fill="#792b9e"/>
<text x="975.9" y="730.6" font-size="18.4" text-anchor="start" font-weight="normal" >CF-SiR</text>
<rect x="951.8" y="739" width="19.6" height="19.8" fill="#e9368b"/>
<text x="975.9" y="755.4" font-size="18.4" text-anchor="start" font-weight="normal" >CP-SiR</text>
<rect x="951.8" y="765.4" width="19.6" height="19.8" fill="#6269b9"/>
<text x="975.9" y="781.8" font-size="18.4" text-anchor="start" font-weight="normal" >BG-SiR</text>
<text transform="translate(-0.85,615.85) scale(1.02,1)" font-size="38.0" font-weight="bold" fill="#1c1c1c">c</text>
</g>
<g>
<rect x="1206.98" y="878.01" width="22.85" height="219.94" fill="#e4312e" stroke="#1a1a1a" stroke-width="1.8" stroke-linejoin="round"/>
<line x1="1218.4" y1="875.27" x2="1218.4" y2="878.95" stroke="#5c5c5c" stroke-width="1.0" stroke-linecap="butt"/>
<line x1="1212.7" y1="875.27" x2="1224.1" y2="875.27" stroke="#5c5c5c" stroke-width="1.0" stroke-linecap="butt"/>
<line x1="1212.7" y1="878.95" x2="1224.1" y2="878.95" stroke="#5c5c5c" stroke-width="1.0" stroke-linecap="butt"/>
<circle cx="1213.2" cy="878.41" r="2.3" fill="#1a1a1a"/>
<circle cx="1223.6" cy="875.81" r="2.3" fill="#1a1a1a"/>
<rect x="1234.72" y="932.23" width="22.85" height="165.72" fill="#e4312e" stroke="#1a1a1a" stroke-width="1.8" stroke-linejoin="round"/>
<line x1="1246.14" y1="929.49" x2="1246.14" y2="933.16" stroke="#5c5c5c" stroke-width="1.0" stroke-linecap="butt"/>
<line x1="1240.44" y1="929.49" x2="1251.84" y2="929.49" stroke="#5c5c5c" stroke-width="1.0" stroke-linecap="butt"/>
<line x1="1240.44" y1="933.16" x2="1251.84" y2="933.16" stroke="#5c5c5c" stroke-width="1.0" stroke-linecap="butt"/>
<circle cx="1240.94" cy="932.63" r="2.3" fill="#1a1a1a"/>
<circle cx="1251.34" cy="930.03" r="2.3" fill="#1a1a1a"/>
<rect x="1262.46" y="938.13" width="22.85" height="159.82" fill="#e4312e" stroke="#1a1a1a" stroke-width="1.8" stroke-linejoin="round"/>
<line x1="1273.88" y1="935.39" x2="1273.88" y2="939.07" stroke="#5c5c5c" stroke-width="1.0" stroke-linecap="butt"/>
<line x1="1268.18" y1="935.39" x2="1279.58" y2="935.39" stroke="#5c5c5c" stroke-width="1.0" stroke-linecap="butt"/>
<line x1="1268.18" y1="939.07" x2="1279.58" y2="939.07" stroke="#5c5c5c" stroke-width="1.0" stroke-linecap="butt"/>
<circle cx="1268.68" cy="938.53" r="2.3" fill="#1a1a1a"/>
<circle cx="1279.08" cy="935.93" r="2.3" fill="#1a1a1a"/>
<rect x="1290.2" y="973.97" width="22.85" height="123.98" fill="#e4312e" stroke="#1a1a1a" stroke-width="1.8" stroke-linejoin="round"/>
<line x1="1301.62" y1="967.41" x2="1301.62" y2="980.14" stroke="#5c5c5c" stroke-width="1.0" stroke-linecap="butt"/>
<line x1="1295.92" y1="967.41" x2="1307.32" y2="967.41" stroke="#5c5c5c" stroke-width="1.0" stroke-linecap="butt"/>
<line x1="1295.92" y1="980.14" x2="1307.32" y2="980.14" stroke="#5c5c5c" stroke-width="1.0" stroke-linecap="butt"/>
<circle cx="1301.62" cy="978.27" r="2.3" fill="#1a1a1a"/>
<circle cx="1301.62" cy="969.27" r="2.3" fill="#1a1a1a"/>
<rect x="1317.94" y="838.84" width="22.85" height="259.11" fill="#c2d53f" stroke="#1a1a1a" stroke-width="1.8" stroke-linejoin="round"/>
<line x1="1329.36" y1="836.1" x2="1329.36" y2="839.78" stroke="#5c5c5c" stroke-width="1.0" stroke-linecap="butt"/>
<line x1="1323.66" y1="836.1" x2="1335.06" y2="836.1" stroke="#5c5c5c" stroke-width="1.0" stroke-linecap="butt"/>
<line x1="1323.66" y1="839.78" x2="1335.06" y2="839.78" stroke="#5c5c5c" stroke-width="1.0" stroke-linecap="butt"/>
<circle cx="1324.16" cy="839.24" r="2.3" fill="#1a1a1a"/>
<circle cx="1334.56" cy="836.64" r="2.3" fill="#1a1a1a"/>
<rect x="1345.68" y="882.42" width="22.85" height="215.53" fill="#c2d53f" stroke="#1a1a1a" stroke-width="1.8" stroke-linejoin="round"/>
<line x1="1357.1" y1="877.69" x2="1357.1" y2="886.74" stroke="#5c5c5c" stroke-width="1.0" stroke-linecap="butt"/>
<line x1="1351.4" y1="877.69" x2="1362.8" y2="877.69" stroke="#5c5c5c" stroke-width="1.0" stroke-linecap="butt"/>
<line x1="1351.4" y1="886.74" x2="1362.8" y2="886.74" stroke="#5c5c5c" stroke-width="1.0" stroke-linecap="butt"/>
<circle cx="1357.1" cy="885.42" r="2.3" fill="#1a1a1a"/>
<circle cx="1357.1" cy="879.02" r="2.3" fill="#1a1a1a"/>
<rect x="1373.42" y="897.7" width="22.85" height="200.25" fill="#c2d53f" stroke="#1a1a1a" stroke-width="1.8" stroke-linejoin="round"/>
<line x1="1384.84" y1="892.97" x2="1384.84" y2="902.03" stroke="#5c5c5c" stroke-width="1.0" stroke-linecap="butt"/>
<line x1="1379.14" y1="892.97" x2="1390.54" y2="892.97" stroke="#5c5c5c" stroke-width="1.0" stroke-linecap="butt"/>
<line x1="1379.14" y1="902.03" x2="1390.54" y2="902.03" stroke="#5c5c5c" stroke-width="1.0" stroke-linecap="butt"/>
<circle cx="1384.84" cy="900.7" r="2.3" fill="#1a1a1a"/>
<circle cx="1384.84" cy="894.3" r="2.3" fill="#1a1a1a"/>
<rect x="1401.16" y="924.55" width="22.85" height="173.4" fill="#c2d53f" stroke="#1a1a1a" stroke-width="1.8" stroke-linejoin="round"/>
<circle cx="1407.38" cy="923.65" r="2.3" fill="#1a1a1a"/>
<circle cx="1417.78" cy="923.65" r="2.3" fill="#1a1a1a"/>
<rect x="1428.9" y="839.11" width="22.85" height="258.84" fill="#ec6a2c" stroke="#1a1a1a" stroke-width="1.8" stroke-linejoin="round"/>
<line x1="1440.32" y1="836.37" x2="1440.32" y2="840.05" stroke="#5c5c5c" stroke-width="1.0" stroke-linecap="butt"/>
<line x1="1434.62" y1="836.37" x2="1446.02" y2="836.37" stroke="#5c5c5c" stroke-width="1.0" stroke-linecap="butt"/>
<line x1="1434.62" y1="840.05" x2="1446.02" y2="840.05" stroke="#5c5c5c" stroke-width="1.0" stroke-linecap="butt"/>
<circle cx="1435.12" cy="839.51" r="2.3" fill="#1a1a1a"/>
<circle cx="1445.52" cy="836.91" r="2.3" fill="#1a1a1a"/>
<rect x="1456.64" y="916.88" width="22.85" height="181.07" fill="#ec6a2c" stroke="#1a1a1a" stroke-width="1.8" stroke-linejoin="round"/>
<line x1="1468.06" y1="914.14" x2="1468.06" y2="917.82" stroke="#5c5c5c" stroke-width="1.0" stroke-linecap="butt"/>
<line x1="1462.36" y1="914.14" x2="1473.76" y2="914.14" stroke="#5c5c5c" stroke-width="1.0" stroke-linecap="butt"/>
<line x1="1462.36" y1="917.82" x2="1473.76" y2="917.82" stroke="#5c5c5c" stroke-width="1.0" stroke-linecap="butt"/>
<circle cx="1462.86" cy="917.28" r="2.3" fill="#1a1a1a"/>
<circle cx="1473.26" cy="914.68" r="2.3" fill="#1a1a1a"/>
<rect x="1484.38" y="966.33" width="22.85" height="131.62" fill="#ec6a2c" stroke="#1a1a1a" stroke-width="1.8" stroke-linejoin="round"/>
<line x1="1495.8" y1="948.95" x2="1495.8" y2="983.31" stroke="#5c5c5c" stroke-width="1.0" stroke-linecap="butt"/>
<line x1="1490.1" y1="948.95" x2="1501.5" y2="948.95" stroke="#5c5c5c" stroke-width="1.0" stroke-linecap="butt"/>
<line x1="1490.1" y1="983.31" x2="1501.5" y2="983.31" stroke="#5c5c5c" stroke-width="1.0" stroke-linecap="butt"/>
<circle cx="1495.8" cy="978.28" r="2.3" fill="#1a1a1a"/>
<circle cx="1495.8" cy="953.98" r="2.3" fill="#1a1a1a"/>
<rect x="1512.12" y="1082.53" width="22.85" height="15.42" fill="#ec6a2c" stroke="#1a1a1a" stroke-width="1.8" stroke-linejoin="round"/>
<line x1="1523.54" y1="1078.79" x2="1523.54" y2="1085.86" stroke="#5c5c5c" stroke-width="1.0" stroke-linecap="butt"/>
<line x1="1517.84" y1="1078.79" x2="1529.24" y2="1078.79" stroke="#5c5c5c" stroke-width="1.0" stroke-linecap="butt"/>
<line x1="1517.84" y1="1085.86" x2="1529.24" y2="1085.86" stroke="#5c5c5c" stroke-width="1.0" stroke-linecap="butt"/>
<circle cx="1523.54" cy="1084.83" r="2.3" fill="#1a1a1a"/>
<circle cx="1523.54" cy="1079.83" r="2.3" fill="#1a1a1a"/>
<rect x="1539.86" y="806.35" width="22.85" height="291.6" fill="#74289c" stroke="#1a1a1a" stroke-width="1.8" stroke-linejoin="round"/>
<line x1="1551.28" y1="803.61" x2="1551.28" y2="807.29" stroke="#5c5c5c" stroke-width="1.0" stroke-linecap="butt"/>
<line x1="1545.58" y1="803.61" x2="1556.98" y2="803.61" stroke="#5c5c5c" stroke-width="1.0" stroke-linecap="butt"/>
<line x1="1545.58" y1="807.29" x2="1556.98" y2="807.29" stroke="#5c5c5c" stroke-width="1.0" stroke-linecap="butt"/>
<circle cx="1546.08" cy="806.75" r="2.3" fill="#1a1a1a"/>
<circle cx="1556.48" cy="804.15" r="2.3" fill="#1a1a1a"/>
<rect x="1567.6" y="855.5" width="22.85" height="242.45" fill="#74289c" stroke="#1a1a1a" stroke-width="1.8" stroke-linejoin="round"/>
<line x1="1579.02" y1="851.34" x2="1579.02" y2="859.26" stroke="#5c5c5c" stroke-width="1.0" stroke-linecap="butt"/>
<line x1="1573.32" y1="851.34" x2="1584.72" y2="851.34" stroke="#5c5c5c" stroke-width="1.0" stroke-linecap="butt"/>
<line x1="1573.32" y1="859.26" x2="1584.72" y2="859.26" stroke="#5c5c5c" stroke-width="1.0" stroke-linecap="butt"/>
<circle cx="1579.02" cy="858.1" r="2.3" fill="#1a1a1a"/>
<circle cx="1579.02" cy="852.5" r="2.3" fill="#1a1a1a"/>
<rect x="1595.34" y="876.72" width="22.85" height="221.23" fill="#74289c" stroke="#1a1a1a" stroke-width="1.8" stroke-linejoin="round"/>
<line x1="1606.76" y1="872.42" x2="1606.76" y2="880.62" stroke="#5c5c5c" stroke-width="1.0" stroke-linecap="butt"/>
<line x1="1601.06" y1="872.42" x2="1612.46" y2="872.42" stroke="#5c5c5c" stroke-width="1.0" stroke-linecap="butt"/>
<line x1="1601.06" y1="880.62" x2="1612.46" y2="880.62" stroke="#5c5c5c" stroke-width="1.0" stroke-linecap="butt"/>
<circle cx="1606.76" cy="879.42" r="2.3" fill="#1a1a1a"/>
<circle cx="1606.76" cy="873.62" r="2.3" fill="#1a1a1a"/>
<rect x="1623.08" y="918.17" width="22.85" height="179.78" fill="#74289c" stroke="#1a1a1a" stroke-width="1.8" stroke-linejoin="round"/>
<circle cx="1629.3" cy="917.27" r="2.3" fill="#1a1a1a"/>
<circle cx="1639.7" cy="917.27" r="2.3" fill="#1a1a1a"/>
<rect x="1697.17" y="849.3" width="22.85" height="248.65" fill="#e4312e" stroke="#1a1a1a" stroke-width="1.8" stroke-linejoin="round"/>
<circle cx="1703.4" cy="848.4" r="2.3" fill="#1a1a1a"/>
<circle cx="1713.8" cy="848.4" r="2.3" fill="#1a1a1a"/>
<rect x="1724.91" y="968.88" width="22.85" height="129.07" fill="#e4312e" stroke="#1a1a1a" stroke-width="1.8" stroke-linejoin="round"/>
<line x1="1736.34" y1="955.67" x2="1736.34" y2="981.69" stroke="#5c5c5c" stroke-width="1.0" stroke-linecap="butt"/>
<line x1="1730.64" y1="955.67" x2="1742.04" y2="955.67" stroke="#5c5c5c" stroke-width="1.0" stroke-linecap="butt"/>
<line x1="1730.64" y1="981.69" x2="1742.04" y2="981.69" stroke="#5c5c5c" stroke-width="1.0" stroke-linecap="butt"/>
<circle cx="1736.34" cy="977.88" r="2.3" fill="#1a1a1a"/>
<circle cx="1736.34" cy="959.48" r="2.3" fill="#1a1a1a"/>
<rect x="1752.65" y="1033.88" width="22.85" height="64.07" fill="#e4312e" stroke="#1a1a1a" stroke-width="1.8" stroke-linejoin="round"/>
<line x1="1764.08" y1="1031.15" x2="1764.08" y2="1034.82" stroke="#5c5c5c" stroke-width="1.0" stroke-linecap="butt"/>
<line x1="1758.38" y1="1031.15" x2="1769.78" y2="1031.15" stroke="#5c5c5c" stroke-width="1.0" stroke-linecap="butt"/>
<line x1="1758.38" y1="1034.82" x2="1769.78" y2="1034.82" stroke="#5c5c5c" stroke-width="1.0" stroke-linecap="butt"/>
<circle cx="1758.88" cy="1034.28" r="2.3" fill="#1a1a1a"/>
<circle cx="1769.28" cy="1031.68" r="2.3" fill="#1a1a1a"/>
<rect x="1780.39" y="1084.05" width="22.85" height="13.9" fill="#e4312e" stroke="#1a1a1a" stroke-width="1.8" stroke-linejoin="round"/>
<line x1="1791.82" y1="1081.32" x2="1791.82" y2="1084.99" stroke="#5c5c5c" stroke-width="1.0" stroke-linecap="butt"/>
<line x1="1786.12" y1="1081.32" x2="1797.52" y2="1081.32" stroke="#5c5c5c" stroke-width="1.0" stroke-linecap="butt"/>
<line x1="1786.12" y1="1084.99" x2="1797.52" y2="1084.99" stroke="#5c5c5c" stroke-width="1.0" stroke-linecap="butt"/>
<circle cx="1786.62" cy="1084.45" r="2.3" fill="#1a1a1a"/>
<circle cx="1797.02" cy="1081.85" r="2.3" fill="#1a1a1a"/>
<rect x="1808.13" y="787.65" width="22.85" height="310.3" fill="#c2d53f" stroke="#1a1a1a" stroke-width="1.8" stroke-linejoin="round"/>
<line x1="1819.56" y1="784.91" x2="1819.56" y2="788.59" stroke="#5c5c5c" stroke-width="1.0" stroke-linecap="butt"/>
<line x1="1813.86" y1="784.91" x2="1825.26" y2="784.91" stroke="#5c5c5c" stroke-width="1.0" stroke-linecap="butt"/>
<line x1="1813.86" y1="788.59" x2="1825.26" y2="788.59" stroke="#5c5c5c" stroke-width="1.0" stroke-linecap="butt"/>
<circle cx="1814.36" cy="788.05" r="2.3" fill="#1a1a1a"/>
<circle cx="1824.76" cy="785.45" r="2.3" fill="#1a1a1a"/>
<rect x="1835.88" y="897.16" width="22.85" height="200.79" fill="#c2d53f" stroke="#1a1a1a" stroke-width="1.8" stroke-linejoin="round"/>
<line x1="1847.3" y1="889.32" x2="1847.3" y2="904.6" stroke="#5c5c5c" stroke-width="1.0" stroke-linecap="butt"/>
<line x1="1841.6" y1="889.32" x2="1853" y2="889.32" stroke="#5c5c5c" stroke-width="1.0" stroke-linecap="butt"/>
<line x1="1841.6" y1="904.6" x2="1853" y2="904.6" stroke="#5c5c5c" stroke-width="1.0" stroke-linecap="butt"/>
<circle cx="1847.3" cy="902.36" r="2.3" fill="#1a1a1a"/>
<circle cx="1847.3" cy="891.56" r="2.3" fill="#1a1a1a"/>
<rect x="1863.62" y="997.8" width="22.85" height="100.15" fill="#c2d53f" stroke="#1a1a1a" stroke-width="1.8" stroke-linejoin="round"/>
<line x1="1875.04" y1="995.06" x2="1875.04" y2="998.74" stroke="#5c5c5c" stroke-width="1.0" stroke-linecap="butt"/>
<line x1="1869.34" y1="995.06" x2="1880.74" y2="995.06" stroke="#5c5c5c" stroke-width="1.0" stroke-linecap="butt"/>
<line x1="1869.34" y1="998.74" x2="1880.74" y2="998.74" stroke="#5c5c5c" stroke-width="1.0" stroke-linecap="butt"/>
<circle cx="1869.84" cy="998.2" r="2.3" fill="#1a1a1a"/>
<circle cx="1880.24" cy="995.6" r="2.3" fill="#1a1a1a"/>
<rect x="1891.36" y="1078.42" width="22.85" height="19.53" fill="#c2d53f" stroke="#1a1a1a" stroke-width="1.8" stroke-linejoin="round"/>
<line x1="1902.78" y1="1075.68" x2="1902.78" y2="1079.36" stroke="#5c5c5c" stroke-width="1.0" stroke-linecap="butt"/>
<line x1="1897.08" y1="1075.68" x2="1908.48" y2="1075.68" stroke="#5c5c5c" stroke-width="1.0" stroke-linecap="butt"/>
<line x1="1897.08" y1="1079.36" x2="1908.48" y2="1079.36" stroke="#5c5c5c" stroke-width="1.0" stroke-linecap="butt"/>
<circle cx="1897.58" cy="1078.82" r="2.3" fill="#1a1a1a"/>
<circle cx="1907.98" cy="1076.22" r="2.3" fill="#1a1a1a"/>
<rect x="1919.1" y="808.9" width="22.85" height="289.05" fill="#ec6a2c" stroke="#1a1a1a" stroke-width="1.8" stroke-linejoin="round"/>
<line x1="1930.52" y1="806.16" x2="1930.52" y2="809.84" stroke="#5c5c5c" stroke-width="1.0" stroke-linecap="butt"/>
<line x1="1924.82" y1="806.16" x2="1936.22" y2="806.16" stroke="#5c5c5c" stroke-width="1.0" stroke-linecap="butt"/>
<line x1="1924.82" y1="809.84" x2="1936.22" y2="809.84" stroke="#5c5c5c" stroke-width="1.0" stroke-linecap="butt"/>
<circle cx="1925.32" cy="809.3" r="2.3" fill="#1a1a1a"/>
<circle cx="1935.72" cy="806.7" r="2.3" fill="#1a1a1a"/>
<rect x="1946.84" y="900.25" width="22.85" height="197.7" fill="#ec6a2c" stroke="#1a1a1a" stroke-width="1.8" stroke-linejoin="round"/>
<circle cx="1953.06" cy="899.35" r="2.3" fill="#1a1a1a"/>
<circle cx="1963.46" cy="899.35" r="2.3" fill="#1a1a1a"/>
<rect x="1974.58" y="980.9" width="22.85" height="117.05" fill="#ec6a2c" stroke="#1a1a1a" stroke-width="1.8" stroke-linejoin="round"/>
<circle cx="1980.8" cy="980" r="2.3" fill="#1a1a1a"/>
<circle cx="1991.2" cy="980" r="2.3" fill="#1a1a1a"/>
<rect x="2002.31" y="1073.8" width="22.85" height="24.15" fill="#ec6a2c" stroke="#1a1a1a" stroke-width="1.8" stroke-linejoin="round"/>
<line x1="2013.74" y1="1071.07" x2="2013.74" y2="1074.74" stroke="#5c5c5c" stroke-width="1.0" stroke-linecap="butt"/>
<line x1="2008.04" y1="1071.07" x2="2019.44" y2="1071.07" stroke="#5c5c5c" stroke-width="1.0" stroke-linecap="butt"/>
<line x1="2008.04" y1="1074.74" x2="2019.44" y2="1074.74" stroke="#5c5c5c" stroke-width="1.0" stroke-linecap="butt"/>
<circle cx="2008.54" cy="1074.2" r="2.3" fill="#1a1a1a"/>
<circle cx="2018.94" cy="1071.6" r="2.3" fill="#1a1a1a"/>
<rect x="2030.06" y="823.49" width="22.85" height="274.46" fill="#74289c" stroke="#1a1a1a" stroke-width="1.8" stroke-linejoin="round"/>
<line x1="2041.48" y1="816.58" x2="2041.48" y2="830.01" stroke="#5c5c5c" stroke-width="1.0" stroke-linecap="butt"/>
<line x1="2035.78" y1="816.58" x2="2047.18" y2="816.58" stroke="#5c5c5c" stroke-width="1.0" stroke-linecap="butt"/>
<line x1="2035.78" y1="830.01" x2="2047.18" y2="830.01" stroke="#5c5c5c" stroke-width="1.0" stroke-linecap="butt"/>
<circle cx="2041.48" cy="828.04" r="2.3" fill="#1a1a1a"/>
<circle cx="2041.48" cy="818.54" r="2.3" fill="#1a1a1a"/>
<rect x="2057.79" y="1048.48" width="22.85" height="49.47" fill="#74289c" stroke="#1a1a1a" stroke-width="1.8" stroke-linejoin="round"/>
<line x1="2069.22" y1="1045.74" x2="2069.22" y2="1049.42" stroke="#5c5c5c" stroke-width="1.0" stroke-linecap="butt"/>
<line x1="2063.52" y1="1045.74" x2="2074.92" y2="1045.74" stroke="#5c5c5c" stroke-width="1.0" stroke-linecap="butt"/>
<line x1="2063.52" y1="1049.42" x2="2074.92" y2="1049.42" stroke="#5c5c5c" stroke-width="1.0" stroke-linecap="butt"/>
<circle cx="2064.02" cy="1048.88" r="2.3" fill="#1a1a1a"/>
<circle cx="2074.42" cy="1046.28" r="2.3" fill="#1a1a1a"/>
<rect x="2085.53" y="1076.11" width="22.85" height="21.84" fill="#74289c" stroke="#1a1a1a" stroke-width="1.8" stroke-linejoin="round"/>
<line x1="2096.96" y1="1070.82" x2="2096.96" y2="1081" stroke="#5c5c5c" stroke-width="1.0" stroke-linecap="butt"/>
<line x1="2091.26" y1="1070.82" x2="2102.66" y2="1070.82" stroke="#5c5c5c" stroke-width="1.0" stroke-linecap="butt"/>
<line x1="2091.26" y1="1081" x2="2102.66" y2="1081" stroke="#5c5c5c" stroke-width="1.0" stroke-linecap="butt"/>
<circle cx="2096.96" cy="1079.51" r="2.3" fill="#1a1a1a"/>
<circle cx="2096.96" cy="1072.31" r="2.3" fill="#1a1a1a"/>
<rect x="2113.27" y="1094.81" width="22.85" height="3.14" fill="#74289c" stroke="#1a1a1a" stroke-width="1.8" stroke-linejoin="round"/>
<line x1="2124.7" y1="1092.07" x2="2124.7" y2="1095.75" stroke="#5c5c5c" stroke-width="1.0" stroke-linecap="butt"/>
<line x1="2119" y1="1092.07" x2="2130.4" y2="1092.07" stroke="#5c5c5c" stroke-width="1.0" stroke-linecap="butt"/>
<line x1="2119" y1="1095.75" x2="2130.4" y2="1095.75" stroke="#5c5c5c" stroke-width="1.0" stroke-linecap="butt"/>
<circle cx="2119.5" cy="1095.21" r="2.3" fill="#1a1a1a"/>
<circle cx="2129.9" cy="1092.61" r="2.3" fill="#1a1a1a"/>
<line x1="1195.15" y1="677.7" x2="1195.15" y2="1098.75" stroke="#1a1a1a" stroke-width="1.6" stroke-linecap="butt"/>
<line x1="1185.15" y1="1097.95" x2="2148" y2="1097.95" stroke="#1a1a1a" stroke-width="1.6" stroke-linecap="butt"/>
<text x="1183" y="1105.75" font-size="27.0" text-anchor="end" font-weight="normal" >0.0</text>
<line x1="1185.15" y1="1038.03" x2="1195.15" y2="1038.03" stroke="#1a1a1a" stroke-width="1.6" stroke-linecap="butt"/>
<text x="1183" y="1045.83" font-size="27.0" text-anchor="end" font-weight="normal" >0.2</text>
<line x1="1185.15" y1="978.11" x2="1195.15" y2="978.11" stroke="#1a1a1a" stroke-width="1.6" stroke-linecap="butt"/>
<text x="1183" y="985.91" font-size="27.0" text-anchor="end" font-weight="normal" >0.4</text>
<line x1="1185.15" y1="918.19" x2="1195.15" y2="918.19" stroke="#1a1a1a" stroke-width="1.6" stroke-linecap="butt"/>
<text x="1183" y="925.99" font-size="27.0" text-anchor="end" font-weight="normal" >0.6</text>
<line x1="1185.15" y1="858.26" x2="1195.15" y2="858.26" stroke="#1a1a1a" stroke-width="1.6" stroke-linecap="butt"/>
<text x="1183" y="866.06" font-size="27.0" text-anchor="end" font-weight="normal" >0.8</text>
<line x1="1185.15" y1="798.34" x2="1195.15" y2="798.34" stroke="#1a1a1a" stroke-width="1.6" stroke-linecap="butt"/>
<text x="1183" y="806.14" font-size="27.0" text-anchor="end" font-weight="normal" >1.0</text>
<line x1="1185.15" y1="738.42" x2="1195.15" y2="738.42" stroke="#1a1a1a" stroke-width="1.6" stroke-linecap="butt"/>
<text x="1183" y="746.22" font-size="27.0" text-anchor="end" font-weight="normal" >1.2</text>
<line x1="1185.15" y1="678.5" x2="1195.15" y2="678.5" stroke="#1a1a1a" stroke-width="1.6" stroke-linecap="butt"/>
<text x="1183" y="686.3" font-size="27.0" text-anchor="end" font-weight="normal" >1.4</text>
<line x1="1218.4" y1="1097.95" x2="1218.4" y2="1107.95" stroke="#1a1a1a" stroke-width="1.6" stroke-linecap="butt"/>
<text transform="translate(1224.1,1124.55) rotate(-45)" font-size="27.0" text-anchor="end">100<tspan dx="1.8 0.9 -4.2">o/n</tspan></text>
<line x1="1246.14" y1="1097.95" x2="1246.14" y2="1107.95" stroke="#1a1a1a" stroke-width="1.6" stroke-linecap="butt"/>
<text transform="translate(1252.25,1124.55) rotate(-45)" font-size="27.0" text-anchor="end">100</text>
<line x1="1273.88" y1="1097.95" x2="1273.88" y2="1107.95" stroke="#1a1a1a" stroke-width="1.6" stroke-linecap="butt"/>
<text transform="translate(1280.4,1124.55) rotate(-45)" font-size="27.0" text-anchor="end">50</text>
<line x1="1301.62" y1="1097.95" x2="1301.62" y2="1107.95" stroke="#1a1a1a" stroke-width="1.6" stroke-linecap="butt"/>
<text transform="translate(1308.55,1124.55) rotate(-45)" font-size="27.0" text-anchor="end">10</text>
<line x1="1329.36" y1="1097.95" x2="1329.36" y2="1107.95" stroke="#1a1a1a" stroke-width="1.6" stroke-linecap="butt"/>
<text transform="translate(1336.7,1124.55) rotate(-45)" font-size="27.0" text-anchor="end">100<tspan dx="1.8 0.9 -4.2">o/n</tspan></text>
<line x1="1357.1" y1="1097.95" x2="1357.1" y2="1107.95" stroke="#1a1a1a" stroke-width="1.6" stroke-linecap="butt"/>
<text transform="translate(1364.85,1124.55) rotate(-45)" font-size="27.0" text-anchor="end">100</text>
<line x1="1384.84" y1="1097.95" x2="1384.84" y2="1107.95" stroke="#1a1a1a" stroke-width="1.6" stroke-linecap="butt"/>
<text transform="translate(1393,1124.55) rotate(-45)" font-size="27.0" text-anchor="end">50</text>
<line x1="1412.58" y1="1097.95" x2="1412.58" y2="1107.95" stroke="#1a1a1a" stroke-width="1.6" stroke-linecap="butt"/>
<text transform="translate(1421.15,1124.55) rotate(-45)" font-size="27.0" text-anchor="end">10</text>
<line x1="1440.32" y1="1097.95" x2="1440.32" y2="1107.95" stroke="#1a1a1a" stroke-width="1.6" stroke-linecap="butt"/>
<text transform="translate(1449.3,1124.55) rotate(-45)" font-size="27.0" text-anchor="end">100<tspan dx="1.8 0.9 -4.2">o/n</tspan></text>
<line x1="1468.06" y1="1097.95" x2="1468.06" y2="1107.95" stroke="#1a1a1a" stroke-width="1.6" stroke-linecap="butt"/>
<text transform="translate(1477.45,1124.55) rotate(-45)" font-size="27.0" text-anchor="end">100</text>
<line x1="1495.8" y1="1097.95" x2="1495.8" y2="1107.95" stroke="#1a1a1a" stroke-width="1.6" stroke-linecap="butt"/>
<text transform="translate(1505.6,1124.55) rotate(-45)" font-size="27.0" text-anchor="end">50</text>
<line x1="1523.54" y1="1097.95" x2="1523.54" y2="1107.95" stroke="#1a1a1a" stroke-width="1.6" stroke-linecap="butt"/>
<text transform="translate(1533.75,1124.55) rotate(-45)" font-size="27.0" text-anchor="end">10</text>
<line x1="1551.28" y1="1097.95" x2="1551.28" y2="1107.95" stroke="#1a1a1a" stroke-width="1.6" stroke-linecap="butt"/>
<text transform="translate(1561.9,1124.55) rotate(-45)" font-size="27.0" text-anchor="end">100<tspan dx="1.8 0.9 -4.2">o/n</tspan></text>
<line x1="1579.02" y1="1097.95" x2="1579.02" y2="1107.95" stroke="#1a1a1a" stroke-width="1.6" stroke-linecap="butt"/>
<text transform="translate(1590.05,1124.55) rotate(-45)" font-size="27.0" text-anchor="end">100</text>
<line x1="1606.76" y1="1097.95" x2="1606.76" y2="1107.95" stroke="#1a1a1a" stroke-width="1.6" stroke-linecap="butt"/>
<text transform="translate(1618.2,1124.55) rotate(-45)" font-size="27.0" text-anchor="end">50</text>
<line x1="1634.5" y1="1097.95" x2="1634.5" y2="1107.95" stroke="#1a1a1a" stroke-width="1.6" stroke-linecap="butt"/>
<text transform="translate(1646.35,1124.55) rotate(-45)" font-size="27.0" text-anchor="end">10</text>
<line x1="1708.6" y1="1097.95" x2="1708.6" y2="1107.95" stroke="#1a1a1a" stroke-width="1.6" stroke-linecap="butt"/>
<text transform="translate(1721.6,1124.55) rotate(-45)" font-size="27.0" text-anchor="end">100<tspan dx="1.8 0.9 -4.2">o/n</tspan></text>
<line x1="1736.34" y1="1097.95" x2="1736.34" y2="1107.95" stroke="#1a1a1a" stroke-width="1.6" stroke-linecap="butt"/>
<text transform="translate(1749.59,1124.55) rotate(-45)" font-size="27.0" text-anchor="end">100</text>
<line x1="1764.08" y1="1097.95" x2="1764.08" y2="1107.95" stroke="#1a1a1a" stroke-width="1.6" stroke-linecap="butt"/>
<text transform="translate(1777.58,1124.55) rotate(-45)" font-size="27.0" text-anchor="end">50</text>
<line x1="1791.82" y1="1097.95" x2="1791.82" y2="1107.95" stroke="#1a1a1a" stroke-width="1.6" stroke-linecap="butt"/>
<text transform="translate(1805.57,1124.55) rotate(-45)" font-size="27.0" text-anchor="end">10</text>
<line x1="1819.56" y1="1097.95" x2="1819.56" y2="1107.95" stroke="#1a1a1a" stroke-width="1.6" stroke-linecap="butt"/>
<text transform="translate(1833.56,1124.55) rotate(-45)" font-size="27.0" text-anchor="end">100<tspan dx="1.8 0.9 -4.2">o/n</tspan></text>
<line x1="1847.3" y1="1097.95" x2="1847.3" y2="1107.95" stroke="#1a1a1a" stroke-width="1.6" stroke-linecap="butt"/>
<text transform="translate(1861.55,1124.55) rotate(-45)" font-size="27.0" text-anchor="end">100</text>
<line x1="1875.04" y1="1097.95" x2="1875.04" y2="1107.95" stroke="#1a1a1a" stroke-width="1.6" stroke-linecap="butt"/>
<text transform="translate(1889.54,1124.55) rotate(-45)" font-size="27.0" text-anchor="end">50</text>
<line x1="1902.78" y1="1097.95" x2="1902.78" y2="1107.95" stroke="#1a1a1a" stroke-width="1.6" stroke-linecap="butt"/>
<text transform="translate(1917.53,1124.55) rotate(-45)" font-size="27.0" text-anchor="end">10</text>
<line x1="1930.52" y1="1097.95" x2="1930.52" y2="1107.95" stroke="#1a1a1a" stroke-width="1.6" stroke-linecap="butt"/>
<text transform="translate(1945.52,1124.55) rotate(-45)" font-size="27.0" text-anchor="end">100<tspan dx="1.8 0.9 -4.2">o/n</tspan></text>
<line x1="1958.26" y1="1097.95" x2="1958.26" y2="1107.95" stroke="#1a1a1a" stroke-width="1.6" stroke-linecap="butt"/>
<text transform="translate(1973.51,1124.55) rotate(-45)" font-size="27.0" text-anchor="end">100</text>
<line x1="1986" y1="1097.95" x2="1986" y2="1107.95" stroke="#1a1a1a" stroke-width="1.6" stroke-linecap="butt"/>
<text transform="translate(2001.5,1124.55) rotate(-45)" font-size="27.0" text-anchor="end">50</text>
<line x1="2013.74" y1="1097.95" x2="2013.74" y2="1107.95" stroke="#1a1a1a" stroke-width="1.6" stroke-linecap="butt"/>
<text transform="translate(2029.49,1124.55) rotate(-45)" font-size="27.0" text-anchor="end">10</text>
<line x1="2041.48" y1="1097.95" x2="2041.48" y2="1107.95" stroke="#1a1a1a" stroke-width="1.6" stroke-linecap="butt"/>
<text transform="translate(2057.48,1124.55) rotate(-45)" font-size="27.0" text-anchor="end">100<tspan dx="1.8 0.9 -4.2">o/n</tspan></text>
<line x1="2069.22" y1="1097.95" x2="2069.22" y2="1107.95" stroke="#1a1a1a" stroke-width="1.6" stroke-linecap="butt"/>
<text transform="translate(2085.47,1124.55) rotate(-45)" font-size="27.0" text-anchor="end">100</text>
<line x1="2096.96" y1="1097.95" x2="2096.96" y2="1107.95" stroke="#1a1a1a" stroke-width="1.6" stroke-linecap="butt"/>
<text transform="translate(2113.46,1124.55) rotate(-45)" font-size="27.0" text-anchor="end">50</text>
<line x1="2124.7" y1="1097.95" x2="2124.7" y2="1107.95" stroke="#1a1a1a" stroke-width="1.6" stroke-linecap="butt"/>
<text transform="translate(2141.45,1124.55) rotate(-45)" font-size="27.0" text-anchor="end">10</text>
<text transform="translate(1132.9,889.1) rotate(-90)" font-size="26.5" text-anchor="middle">Derived median MaP555/mEGFP</text>
<line x1="1203.3" y1="676.7" x2="1663" y2="676.7" stroke="#000" stroke-width="1.8" stroke-linecap="butt"/>
<line x1="1697.6" y1="676.7" x2="2146.4" y2="676.7" stroke="#000" stroke-width="1.8" stroke-linecap="butt"/>
<text transform="translate(1365,669.9) scale(0.964,1)" font-size="30.5" font-weight="bold" fill="#000">SNAP-tag2</text>
<text transform="translate(1870.8,665) scale(0.964,1)" font-size="30.5" font-weight="bold" fill="#000">SNAP<tspan font-size="22.0" dy="7.8" dx="-0.3">f</tspan><tspan dy="-7.8" dx="3.6">-tag</tspan></text>
<rect x="2017.6" y="686" width="19.6" height="19.8" fill="#e4312e"/>
<text x="2041.9" y="702.4" font-size="18.4" text-anchor="start" font-weight="normal" >TF-MaP555</text>
<rect x="2017.6" y="710.3" width="19.6" height="19.8" fill="#c2d53f"/>
<text x="2041.9" y="726.7" font-size="18.4" text-anchor="start" font-weight="normal" >CF-MaP555</text>
<rect x="2017.6" y="735.4" width="19.6" height="19.8" fill="#ec6a2c"/>
<text x="2041.9" y="751.8" font-size="18.4" text-anchor="start" font-weight="normal" >CP-MaP555</text>
<rect x="2017.6" y="762" width="19.6" height="19.8" fill="#74289c"/>
<text x="2041.9" y="778.4" font-size="18.4" text-anchor="start" font-weight="normal" >BG-MaP555</text>
<text transform="translate(1096.5,616.7) scale(1.025,1)" font-size="38.0" font-weight="bold" fill="#1c1c1c">d</text>
</g>
<g>
<rect x="112.3" y="1409.6" width="30.4" height="280.5" fill="#3c3489" stroke="#1a1a1a" stroke-width="1.8" stroke-linejoin="round"/>
<line x1="127.5" y1="1404.87" x2="127.5" y2="1413.92" stroke="#5c5c5c" stroke-width="1.0" stroke-linecap="butt"/>
<line x1="121.8" y1="1404.87" x2="133.2" y2="1404.87" stroke="#5c5c5c" stroke-width="1.0" stroke-linecap="butt"/>
<line x1="121.8" y1="1413.92" x2="133.2" y2="1413.92" stroke="#5c5c5c" stroke-width="1.0" stroke-linecap="butt"/>
<circle cx="127.5" cy="1412.6" r="2.3" fill="#1a1a1a"/>
<circle cx="127.5" cy="1406.2" r="2.3" fill="#1a1a1a"/>
<rect x="149.88" y="1567.8" width="30.4" height="122.3" fill="#3c3489" stroke="#1a1a1a" stroke-width="1.8" stroke-linejoin="round"/>
<line x1="165.08" y1="1552.75" x2="165.08" y2="1582.45" stroke="#5c5c5c" stroke-width="1.0" stroke-linecap="butt"/>
<line x1="159.38" y1="1552.75" x2="170.78" y2="1552.75" stroke="#5c5c5c" stroke-width="1.0" stroke-linecap="butt"/>
<line x1="159.38" y1="1582.45" x2="170.78" y2="1582.45" stroke="#5c5c5c" stroke-width="1.0" stroke-linecap="butt"/>
<circle cx="165.08" cy="1578.1" r="2.3" fill="#1a1a1a"/>
<circle cx="165.08" cy="1557.1" r="2.3" fill="#1a1a1a"/>
<rect x="187.46" y="1622.3" width="30.4" height="67.8" fill="#3c3489" stroke="#1a1a1a" stroke-width="1.8" stroke-linejoin="round"/>
<line x1="202.66" y1="1619.27" x2="202.66" y2="1623.52" stroke="#5c5c5c" stroke-width="1.0" stroke-linecap="butt"/>
<line x1="196.96" y1="1619.27" x2="208.36" y2="1619.27" stroke="#5c5c5c" stroke-width="1.0" stroke-linecap="butt"/>
<line x1="196.96" y1="1623.52" x2="208.36" y2="1623.52" stroke="#5c5c5c" stroke-width="1.0" stroke-linecap="butt"/>
<circle cx="197.46" cy="1622.9" r="2.3" fill="#1a1a1a"/>
<circle cx="207.86" cy="1619.9" r="2.3" fill="#1a1a1a"/>
<rect x="225.04" y="1676.09" width="30.4" height="14.01" fill="#3c3489" stroke="#1a1a1a" stroke-width="1.8" stroke-linejoin="round"/>
<circle cx="235.04" cy="1675.19" r="2.3" fill="#1a1a1a"/>
<circle cx="245.44" cy="1675.19" r="2.3" fill="#1a1a1a"/>
<rect x="262.62" y="1337.42" width="30.4" height="352.68" fill="#4c5fb5" stroke="#1a1a1a" stroke-width="1.8" stroke-linejoin="round"/>
<line x1="277.82" y1="1330.15" x2="277.82" y2="1344.29" stroke="#5c5c5c" stroke-width="1.0" stroke-linecap="butt"/>
<line x1="272.12" y1="1330.15" x2="283.52" y2="1330.15" stroke="#5c5c5c" stroke-width="1.0" stroke-linecap="butt"/>
<line x1="272.12" y1="1344.29" x2="283.52" y2="1344.29" stroke="#5c5c5c" stroke-width="1.0" stroke-linecap="butt"/>
<circle cx="277.82" cy="1342.22" r="2.3" fill="#1a1a1a"/>
<circle cx="277.82" cy="1332.22" r="2.3" fill="#1a1a1a"/>
<rect x="300.2" y="1560.89" width="30.4" height="129.21" fill="#4c5fb5" stroke="#1a1a1a" stroke-width="1.8" stroke-linejoin="round"/>
<line x1="315.4" y1="1555.74" x2="315.4" y2="1565.64" stroke="#5c5c5c" stroke-width="1.0" stroke-linecap="butt"/>
<line x1="309.7" y1="1555.74" x2="321.1" y2="1555.74" stroke="#5c5c5c" stroke-width="1.0" stroke-linecap="butt"/>
<line x1="309.7" y1="1565.64" x2="321.1" y2="1565.64" stroke="#5c5c5c" stroke-width="1.0" stroke-linecap="butt"/>
<circle cx="315.4" cy="1564.19" r="2.3" fill="#1a1a1a"/>
<circle cx="315.4" cy="1557.19" r="2.3" fill="#1a1a1a"/>
<rect x="337.78" y="1620.51" width="30.4" height="69.59" fill="#4c5fb5" stroke="#1a1a1a" stroke-width="1.8" stroke-linejoin="round"/>
<line x1="352.98" y1="1615.22" x2="352.98" y2="1625.4" stroke="#5c5c5c" stroke-width="1.0" stroke-linecap="butt"/>
<line x1="347.28" y1="1615.22" x2="358.68" y2="1615.22" stroke="#5c5c5c" stroke-width="1.0" stroke-linecap="butt"/>
<line x1="347.28" y1="1625.4" x2="358.68" y2="1625.4" stroke="#5c5c5c" stroke-width="1.0" stroke-linecap="butt"/>
<circle cx="352.98" cy="1623.91" r="2.3" fill="#1a1a1a"/>
<circle cx="352.98" cy="1616.71" r="2.3" fill="#1a1a1a"/>
<rect x="375.36" y="1676.09" width="30.4" height="14.01" fill="#4c5fb5" stroke="#1a1a1a" stroke-width="1.8" stroke-linejoin="round"/>
<circle cx="385.36" cy="1675.19" r="2.3" fill="#1a1a1a"/>
<circle cx="395.76" cy="1675.19" r="2.3" fill="#1a1a1a"/>
<rect x="412.94" y="1481.52" width="30.4" height="208.58" fill="#4290a0" stroke="#1a1a1a" stroke-width="1.8" stroke-linejoin="round"/>
<line x1="428.14" y1="1478.5" x2="428.14" y2="1482.75" stroke="#5c5c5c" stroke-width="1.0" stroke-linecap="butt"/>
<line x1="422.44" y1="1478.5" x2="433.84" y2="1478.5" stroke="#5c5c5c" stroke-width="1.0" stroke-linecap="butt"/>
<line x1="422.44" y1="1482.75" x2="433.84" y2="1482.75" stroke="#5c5c5c" stroke-width="1.0" stroke-linecap="butt"/>
<circle cx="422.94" cy="1482.12" r="2.3" fill="#1a1a1a"/>
<circle cx="433.34" cy="1479.12" r="2.3" fill="#1a1a1a"/>
<rect x="450.52" y="1678.65" width="30.4" height="11.45" fill="#4290a0" stroke="#1a1a1a" stroke-width="1.8" stroke-linejoin="round"/>
<circle cx="460.52" cy="1677.75" r="2.3" fill="#1a1a1a"/>
<circle cx="470.92" cy="1677.75" r="2.3" fill="#1a1a1a"/>
<rect x="488.1" y="1686.33" width="30.4" height="3.77" fill="#4290a0" stroke="#1a1a1a" stroke-width="1.8" stroke-linejoin="round"/>
<circle cx="498.1" cy="1685.43" r="2.3" fill="#1a1a1a"/>
<circle cx="508.5" cy="1685.43" r="2.3" fill="#1a1a1a"/>
<circle cx="535.68" cy="1689.22" r="2.3" fill="#1a1a1a"/>
<circle cx="546.08" cy="1689.22" r="2.3" fill="#1a1a1a"/>
<rect x="594" y="1673.57" width="30.4" height="16.53" fill="#3c3489" stroke="#1a1a1a" stroke-width="1.8" stroke-linejoin="round"/>
<circle cx="604" cy="1672.67" r="2.3" fill="#1a1a1a"/>
<circle cx="614.4" cy="1672.67" r="2.3" fill="#1a1a1a"/>
<rect x="631.58" y="1688.3" width="30.4" height="1.8" fill="#3c3489" stroke="#1a1a1a" stroke-width="1.8" stroke-linejoin="round"/>
<circle cx="641.58" cy="1687.4" r="2.3" fill="#1a1a1a"/>
<circle cx="651.98" cy="1687.4" r="2.3" fill="#1a1a1a"/>
<circle cx="679.16" cy="1689.4" r="2.3" fill="#1a1a1a"/>
<circle cx="689.56" cy="1689.4" r="2.3" fill="#1a1a1a"/>
<circle cx="716.74" cy="1689.4" r="2.3" fill="#1a1a1a"/>
<circle cx="727.14" cy="1689.4" r="2.3" fill="#1a1a1a"/>
<rect x="744.32" y="1671.74" width="30.4" height="18.36" fill="#4c5fb5" stroke="#1a1a1a" stroke-width="1.8" stroke-linejoin="round"/>
<circle cx="754.32" cy="1670.84" r="2.3" fill="#1a1a1a"/>
<circle cx="764.72" cy="1670.84" r="2.3" fill="#1a1a1a"/>
<rect x="781.9" y="1688.3" width="30.4" height="1.8" fill="#4c5fb5" stroke="#1a1a1a" stroke-width="1.8" stroke-linejoin="round"/>
<circle cx="791.9" cy="1687.4" r="2.3" fill="#1a1a1a"/>
<circle cx="802.3" cy="1687.4" r="2.3" fill="#1a1a1a"/>
<circle cx="829.48" cy="1689.4" r="2.3" fill="#1a1a1a"/>
<circle cx="839.88" cy="1689.4" r="2.3" fill="#1a1a1a"/>
<circle cx="867.06" cy="1689.4" r="2.3" fill="#1a1a1a"/>
<circle cx="877.46" cy="1689.4" r="2.3" fill="#1a1a1a"/>
<rect x="894.64" y="1679.18" width="30.4" height="10.92" fill="#4290a0" stroke="#1a1a1a" stroke-width="1.8" stroke-linejoin="round"/>
<circle cx="904.64" cy="1678.28" r="2.3" fill="#1a1a1a"/>
<circle cx="915.04" cy="1678.28" r="2.3" fill="#1a1a1a"/>
<circle cx="942.22" cy="1689.4" r="2.3" fill="#1a1a1a"/>
<circle cx="952.62" cy="1689.4" r="2.3" fill="#1a1a1a"/>
<circle cx="985" cy="1689.4" r="2.3" fill="#1a1a1a"/>
<circle cx="1017.38" cy="1689.4" r="2.3" fill="#1a1a1a"/>
<circle cx="1027.78" cy="1689.4" r="2.3" fill="#1a1a1a"/>
<line x1="96.75" y1="1268.1" x2="96.75" y2="1690.9" stroke="#1a1a1a" stroke-width="1.6" stroke-linecap="butt"/>
<line x1="86.75" y1="1690.1" x2="1054.2" y2="1690.1" stroke="#1a1a1a" stroke-width="1.6" stroke-linecap="butt"/>
<text x="85" y="1698" font-size="27.0" text-anchor="end" font-weight="normal" >0.0</text>
<line x1="86.75" y1="1619.9" x2="96.75" y2="1619.9" stroke="#1a1a1a" stroke-width="1.6" stroke-linecap="butt"/>
<text x="85" y="1627.8" font-size="27.0" text-anchor="end" font-weight="normal" >0.2</text>
<line x1="86.75" y1="1549.7" x2="96.75" y2="1549.7" stroke="#1a1a1a" stroke-width="1.6" stroke-linecap="butt"/>
<text x="85" y="1557.6" font-size="27.0" text-anchor="end" font-weight="normal" >0.4</text>
<line x1="86.75" y1="1479.5" x2="96.75" y2="1479.5" stroke="#1a1a1a" stroke-width="1.6" stroke-linecap="butt"/>
<text x="85" y="1487.4" font-size="27.0" text-anchor="end" font-weight="normal" >0.6</text>
<line x1="86.75" y1="1409.3" x2="96.75" y2="1409.3" stroke="#1a1a1a" stroke-width="1.6" stroke-linecap="butt"/>
<text x="85" y="1417.2" font-size="27.0" text-anchor="end" font-weight="normal" >0.8</text>
<line x1="86.75" y1="1339.1" x2="96.75" y2="1339.1" stroke="#1a1a1a" stroke-width="1.6" stroke-linecap="butt"/>
<text x="85" y="1347" font-size="27.0" text-anchor="end" font-weight="normal" >1.0</text>
<line x1="86.75" y1="1268.9" x2="96.75" y2="1268.9" stroke="#1a1a1a" stroke-width="1.6" stroke-linecap="butt"/>
<text x="85" y="1276.8" font-size="27.0" text-anchor="end" font-weight="normal" >1.2</text>
<line x1="127.5" y1="1690.1" x2="127.5" y2="1700.1" stroke="#1a1a1a" stroke-width="1.6" stroke-linecap="butt"/>
<text transform="translate(129.9,1714.5) rotate(-45)" font-size="27.0" text-anchor="end">500<tspan dx="1.8 0.9 -4.2">o/n</tspan></text>
<line x1="165.08" y1="1690.1" x2="165.08" y2="1700.1" stroke="#1a1a1a" stroke-width="1.6" stroke-linecap="butt"/>
<text transform="translate(167.58,1714.5) rotate(-45)" font-size="27.0" text-anchor="end">100</text>
<line x1="202.66" y1="1690.1" x2="202.66" y2="1700.1" stroke="#1a1a1a" stroke-width="1.6" stroke-linecap="butt"/>
<text transform="translate(205.26,1714.5) rotate(-45)" font-size="27.0" text-anchor="end">50</text>
<line x1="240.24" y1="1690.1" x2="240.24" y2="1700.1" stroke="#1a1a1a" stroke-width="1.6" stroke-linecap="butt"/>
<text transform="translate(242.94,1714.5) rotate(-45)" font-size="27.0" text-anchor="end">10</text>
<line x1="277.82" y1="1690.1" x2="277.82" y2="1700.1" stroke="#1a1a1a" stroke-width="1.6" stroke-linecap="butt"/>
<text transform="translate(280.62,1714.5) rotate(-45)" font-size="27.0" text-anchor="end">500<tspan dx="1.8 0.9 -4.2">o/n</tspan></text>
<line x1="315.4" y1="1690.1" x2="315.4" y2="1700.1" stroke="#1a1a1a" stroke-width="1.6" stroke-linecap="butt"/>
<text transform="translate(318.3,1714.5) rotate(-45)" font-size="27.0" text-anchor="end">100</text>
<line x1="352.98" y1="1690.1" x2="352.98" y2="1700.1" stroke="#1a1a1a" stroke-width="1.6" stroke-linecap="butt"/>
<text transform="translate(355.98,1714.5) rotate(-45)" font-size="27.0" text-anchor="end">50</text>
<line x1="390.56" y1="1690.1" x2="390.56" y2="1700.1" stroke="#1a1a1a" stroke-width="1.6" stroke-linecap="butt"/>
<text transform="translate(393.66,1714.5) rotate(-45)" font-size="27.0" text-anchor="end">10</text>
<line x1="428.14" y1="1690.1" x2="428.14" y2="1700.1" stroke="#1a1a1a" stroke-width="1.6" stroke-linecap="butt"/>
<text transform="translate(431.34,1714.5) rotate(-45)" font-size="27.0" text-anchor="end">500<tspan dx="1.8 0.9 -4.2">o/n</tspan></text>
<line x1="465.72" y1="1690.1" x2="465.72" y2="1700.1" stroke="#1a1a1a" stroke-width="1.6" stroke-linecap="butt"/>
<text transform="translate(469.02,1714.5) rotate(-45)" font-size="27.0" text-anchor="end">100</text>
<line x1="503.3" y1="1690.1" x2="503.3" y2="1700.1" stroke="#1a1a1a" stroke-width="1.6" stroke-linecap="butt"/>
<text transform="translate(506.7,1714.5) rotate(-45)" font-size="27.0" text-anchor="end">50</text>
<line x1="540.88" y1="1690.1" x2="540.88" y2="1700.1" stroke="#1a1a1a" stroke-width="1.6" stroke-linecap="butt"/>
<text transform="translate(544.38,1714.5) rotate(-45)" font-size="27.0" text-anchor="end">10</text>
<line x1="609.2" y1="1690.1" x2="609.2" y2="1700.1" stroke="#1a1a1a" stroke-width="1.6" stroke-linecap="butt"/>
<text transform="translate(616.2,1714.5) rotate(-45)" font-size="27.0" text-anchor="end">500<tspan dx="1.8 0.9 -4.2">o/n</tspan></text>
<line x1="646.78" y1="1690.1" x2="646.78" y2="1700.1" stroke="#1a1a1a" stroke-width="1.6" stroke-linecap="butt"/>
<text transform="translate(653.78,1714.5) rotate(-45)" font-size="27.0" text-anchor="end">100</text>
<line x1="684.36" y1="1690.1" x2="684.36" y2="1700.1" stroke="#1a1a1a" stroke-width="1.6" stroke-linecap="butt"/>
<text transform="translate(691.36,1714.5) rotate(-45)" font-size="27.0" text-anchor="end">50</text>
<line x1="721.94" y1="1690.1" x2="721.94" y2="1700.1" stroke="#1a1a1a" stroke-width="1.6" stroke-linecap="butt"/>
<text transform="translate(728.94,1714.5) rotate(-45)" font-size="27.0" text-anchor="end">10</text>
<line x1="759.52" y1="1690.1" x2="759.52" y2="1700.1" stroke="#1a1a1a" stroke-width="1.6" stroke-linecap="butt"/>
<text transform="translate(766.52,1714.5) rotate(-45)" font-size="27.0" text-anchor="end">500<tspan dx="1.8 0.9 -4.2">o/n</tspan></text>
<line x1="797.1" y1="1690.1" x2="797.1" y2="1700.1" stroke="#1a1a1a" stroke-width="1.6" stroke-linecap="butt"/>
<text transform="translate(804.1,1714.5) rotate(-45)" font-size="27.0" text-anchor="end">100</text>
<line x1="834.68" y1="1690.1" x2="834.68" y2="1700.1" stroke="#1a1a1a" stroke-width="1.6" stroke-linecap="butt"/>
<text transform="translate(841.68,1714.5) rotate(-45)" font-size="27.0" text-anchor="end">50</text>
<line x1="872.26" y1="1690.1" x2="872.26" y2="1700.1" stroke="#1a1a1a" stroke-width="1.6" stroke-linecap="butt"/>
<text transform="translate(879.26,1714.5) rotate(-45)" font-size="27.0" text-anchor="end">10</text>
<line x1="909.84" y1="1690.1" x2="909.84" y2="1700.1" stroke="#1a1a1a" stroke-width="1.6" stroke-linecap="butt"/>
<text transform="translate(916.84,1714.5) rotate(-45)" font-size="27.0" text-anchor="end">500<tspan dx="1.8 0.9 -4.2">o/n</tspan></text>
<line x1="947.42" y1="1690.1" x2="947.42" y2="1700.1" stroke="#1a1a1a" stroke-width="1.6" stroke-linecap="butt"/>
<text transform="translate(954.42,1714.5) rotate(-45)" font-size="27.0" text-anchor="end">100</text>
<line x1="985" y1="1690.1" x2="985" y2="1700.1" stroke="#1a1a1a" stroke-width="1.6" stroke-linecap="butt"/>
<text transform="translate(992,1714.5) rotate(-45)" font-size="27.0" text-anchor="end">50</text>
<line x1="1022.58" y1="1690.1" x2="1022.58" y2="1700.1" stroke="#1a1a1a" stroke-width="1.6" stroke-linecap="butt"/>
<text transform="translate(1029.58,1714.5) rotate(-45)" font-size="27.0" text-anchor="end">10</text>
<text transform="translate(33.5,1481.3) rotate(-90)" font-size="26.5" text-anchor="middle">Derived median MaP618/mEGFP</text>
<line x1="104.2" y1="1266.8" x2="563.7" y2="1266.8" stroke="#000" stroke-width="1.8" stroke-linecap="butt"/>
<line x1="582.4" y1="1266.8" x2="1041.4" y2="1266.8" stroke="#000" stroke-width="1.8" stroke-linecap="butt"/>
<text transform="translate(265.5,1259.9) scale(0.964,1)" font-size="30.5" font-weight="bold" fill="#000">SNAP-tag2</text>
<text transform="translate(772.3,1255) scale(0.964,1)" font-size="30.5" font-weight="bold" fill="#000">SNAP<tspan font-size="22.0" dy="7.8" dx="-0.3">f</tspan><tspan dy="-7.8" dx="3.6">-tag</tspan></text>
<rect x="916" y="1279.8" width="19.6" height="19.8" fill="#3c3489"/>
<text x="940" y="1296.2" font-size="18.4" text-anchor="start" font-weight="normal" >TF-MaP618</text>
<rect x="916" y="1304.2" width="19.6" height="19.8" fill="#4c5fb5"/>
<text x="940" y="1320.6" font-size="18.4" text-anchor="start" font-weight="normal" >CF<tspan font-size="11.5" dy="5">3</tspan><tspan dy="-5">P-MaP618</tspan></text>
<rect x="916" y="1329" width="19.6" height="19.8" fill="#4290a0"/>
<text x="940" y="1345.4" font-size="18.4" text-anchor="start" font-weight="normal" >BG-MaP618</text>
<text transform="translate(-0.85,1251.1) scale(1.0,1)" font-size="38.0" font-weight="bold" fill="#1c1c1c">e</text>
</g>
</svg>
</body></html>
